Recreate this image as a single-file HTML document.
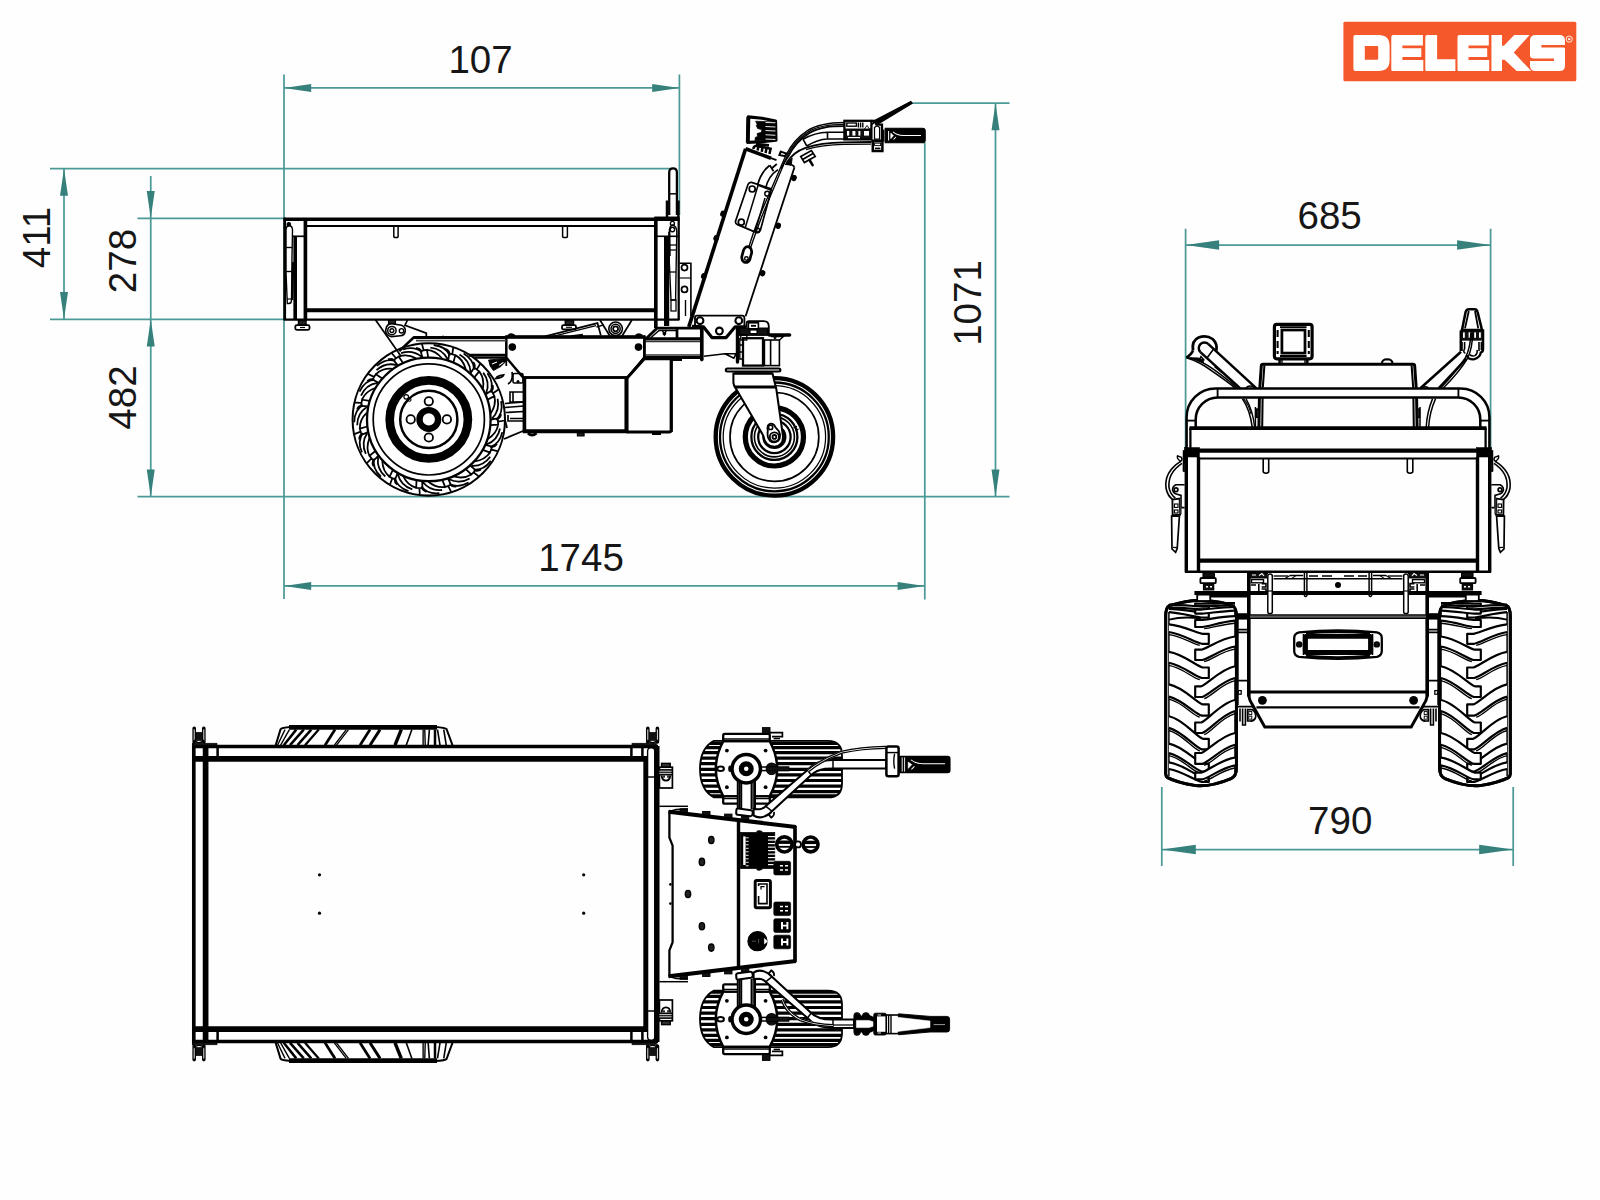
<!DOCTYPE html>
<html><head><meta charset="utf-8"><title>DELEKS dimensions</title>
<style>
html,body{margin:0;padding:0;background:#fefefe;}
body{width:1600px;height:1200px;overflow:hidden;font-family:"Liberation Sans",sans-serif;}
svg{display:block;}
svg text{font-family:"Liberation Sans",sans-serif;fill:#161616;}
</style></head><body>
<svg width="1600" height="1200" viewBox="0 0 1600 1200">
<defs><clipPath id="finclip"><path d="M714 740.8 H828 Q842 741 842 755 V783.4 Q842 797.4 828 797.4 H714 Q700 790 700 769 Q700 748 714 740.8 Z"/></clipPath></defs>
<rect x="0" y="0" width="1600" height="1200" fill="#fefefe"/>
<line x1="284.00" y1="74.50" x2="284.00" y2="599.00" stroke="#4c9a97" stroke-width="1.75" stroke-linecap="butt"/>
<line x1="679.40" y1="74.50" x2="679.40" y2="215.00" stroke="#4c9a97" stroke-width="1.75" stroke-linecap="butt"/>
<line x1="284.00" y1="87.90" x2="679.40" y2="87.90" stroke="#4c9a97" stroke-width="1.75" stroke-linecap="butt"/>
<polygon points="284.00,87.90 311.20,83.90 311.20,91.90" fill="#36817c"/>
<polygon points="679.40,87.90 652.20,83.90 652.20,91.90" fill="#36817c"/>
<text x="480.50" y="72.50" font-size="38.5" text-anchor="middle">107</text>
<line x1="50.00" y1="168.50" x2="670.00" y2="168.50" stroke="#4c9a97" stroke-width="1.75" stroke-linecap="butt"/>
<line x1="50.00" y1="319.30" x2="284.00" y2="319.30" stroke="#4c9a97" stroke-width="1.75" stroke-linecap="butt"/>
<line x1="64.00" y1="168.50" x2="64.00" y2="319.30" stroke="#4c9a97" stroke-width="1.75" stroke-linecap="butt"/>
<polygon points="64.00,168.50 60.00,195.70 68.00,195.70" fill="#36817c"/>
<polygon points="64.00,319.30 60.00,292.10 68.00,292.10" fill="#36817c"/>
<text x="50.00" y="237.50" font-size="38.5" text-anchor="middle" transform="rotate(-90 50.00 237.50)">411</text>
<line x1="137.50" y1="218.30" x2="284.00" y2="218.30" stroke="#4c9a97" stroke-width="1.75" stroke-linecap="butt"/>
<line x1="150.75" y1="176.00" x2="150.75" y2="496.70" stroke="#4c9a97" stroke-width="1.75" stroke-linecap="butt"/>
<polygon points="150.75,218.30 146.75,191.10 154.75,191.10" fill="#36817c"/>
<polygon points="150.75,319.30 146.75,346.50 154.75,346.50" fill="#36817c"/>
<polygon points="150.75,496.70 146.75,469.50 154.75,469.50" fill="#36817c"/>
<text x="136.00" y="261.00" font-size="38.5" text-anchor="middle" transform="rotate(-90 136.00 261.00)">278</text>
<text x="136.00" y="397.50" font-size="38.5" text-anchor="middle" transform="rotate(-90 136.00 397.50)">482</text>
<line x1="137.50" y1="496.70" x2="1009.50" y2="496.70" stroke="#4c9a97" stroke-width="1.75" stroke-linecap="butt"/>
<line x1="924.80" y1="142.50" x2="924.80" y2="599.50" stroke="#4c9a97" stroke-width="1.75" stroke-linecap="butt"/>
<line x1="284.00" y1="585.90" x2="924.80" y2="585.90" stroke="#4c9a97" stroke-width="1.75" stroke-linecap="butt"/>
<polygon points="284.00,585.90 311.20,581.90 311.20,589.90" fill="#36817c"/>
<polygon points="924.80,585.90 897.60,581.90 897.60,589.90" fill="#36817c"/>
<text x="581.00" y="571.00" font-size="38.5" text-anchor="middle">1745</text>
<line x1="911.00" y1="103.00" x2="1009.50" y2="103.00" stroke="#4c9a97" stroke-width="1.75" stroke-linecap="butt"/>
<line x1="995.50" y1="103.00" x2="995.50" y2="496.70" stroke="#4c9a97" stroke-width="1.75" stroke-linecap="butt"/>
<polygon points="995.50,103.00 991.50,130.20 999.50,130.20" fill="#36817c"/>
<polygon points="995.50,496.70 991.50,469.50 999.50,469.50" fill="#36817c"/>
<text x="980.50" y="303.00" font-size="38.5" text-anchor="middle" transform="rotate(-90 980.50 303.00)">1071</text>
<line x1="1185.60" y1="228.70" x2="1185.60" y2="448.00" stroke="#4c9a97" stroke-width="1.75" stroke-linecap="butt"/>
<line x1="1490.60" y1="228.70" x2="1490.60" y2="448.00" stroke="#4c9a97" stroke-width="1.75" stroke-linecap="butt"/>
<line x1="1185.60" y1="245.00" x2="1490.60" y2="245.00" stroke="#4c9a97" stroke-width="1.75" stroke-linecap="butt"/>
<polygon points="1185.60,245.00 1219.10,240.20 1219.10,249.80" fill="#36817c"/>
<polygon points="1490.60,245.00 1457.10,240.20 1457.10,249.80" fill="#36817c"/>
<text x="1329.60" y="228.70" font-size="38.5" text-anchor="middle">685</text>
<line x1="1161.80" y1="787.00" x2="1161.80" y2="866.00" stroke="#4c9a97" stroke-width="1.75" stroke-linecap="butt"/>
<line x1="1513.20" y1="787.00" x2="1513.20" y2="866.00" stroke="#4c9a97" stroke-width="1.75" stroke-linecap="butt"/>
<line x1="1161.80" y1="849.50" x2="1513.20" y2="849.50" stroke="#4c9a97" stroke-width="1.75" stroke-linecap="butt"/>
<polygon points="1161.80,849.50 1195.80,844.70 1195.80,854.30" fill="#36817c"/>
<polygon points="1513.20,849.50 1479.20,844.70 1479.20,854.30" fill="#36817c"/>
<text x="1340.20" y="834.00" font-size="38.5" text-anchor="middle">790</text>
<g role="img" aria-label="DELEKS">
<rect x="1343.4" y="21.8" width="232.9" height="59.4" rx="1.5" fill="#f5582b"/>
<path fill="#fff" fill-rule="evenodd" d="M1355.4 34.9 H1378.5 Q1389.6 34.9 1389.6 46 V60 Q1389.6 71.0 1378.5 71.0 H1355.4 Q1353.4 71.0 1353.4 69.0 V36.9 Q1353.4 34.9 1355.4 34.9 Z M1364.8 45.9 H1377 Q1378.2 45.9 1378.2 47.1 V58.5 Q1378.2 59.7 1377 59.7 H1364.8 Z"/>
<path fill="#fff" d="M1393.3 34.9 H1422.8999999999999 V45.5 H1402.4 V48.2 H1421.3 V57.1 H1402.4 V59.9 H1423.3 V71.0 H1392.3 Q1391.3 71.0 1391.3 70.0 V36.9 Q1391.3 34.9 1393.3 34.9 Z"/>
<path fill="#fff" d="M1427.3 34.9 H1437.1 V59.3 H1455.4 V71.0 H1426.3 Q1425.3 71.0 1425.3 70.0 V36.9 Q1425.3 34.9 1427.3 34.9 Z"/>
<path fill="#fff" d="M1459.5 34.9 H1488.8 V45.5 H1468.5 V48.2 H1487.2 V57.1 H1468.5 V59.9 H1489.2 V71.0 H1458.5 Q1457.5 71.0 1457.5 70.0 V36.9 Q1457.5 34.9 1459.5 34.9 Z"/>
<path fill="#fff" d="M1491.44 34.91 L1502.00 34.91 L1502.00 45.71 L1503.87 45.71 L1514.19 34.91 L1529.62 34.91 L1513.78 52.54 L1531.25 71.06 L1516.62 71.06 L1504.60 59.69 L1502.00 59.69 L1502.00 71.06 L1491.44 71.06 Z"/>
<path fill="#fff" d="M1535.5 34.9 H1559.5 Q1565.0 34.9 1565.0 40.4 V45 H1541.4 V47.5 H1564.0 Q1565.0 47.5 1565.0 49 V65.5 Q1565.0 71.0 1559.5 71.0 H1535.5 Q1530.0 71.0 1530.0 65.5 V60.9 H1554 V58.5 H1533.0 Q1530.0 58 1530.0 55 V40.4 Q1530.0 34.9 1535.5 34.9 Z"/>
<circle cx="1569.2" cy="39.1" r="3.1" fill="none" stroke="#fff" stroke-width="0.9"/>
<circle cx="1569.2" cy="39.1" r="1.2" fill="#fff"/>
</g>
<line x1="283.60" y1="219.20" x2="679.40" y2="219.20" stroke="#000" stroke-width="3.65" stroke-linecap="butt"/>
<line x1="306.00" y1="226.00" x2="655.60" y2="226.00" stroke="#000" stroke-width="2.05" stroke-linecap="butt"/>
<line x1="306.00" y1="310.20" x2="655.60" y2="310.20" stroke="#000" stroke-width="3.88" stroke-linecap="butt"/>
<line x1="283.60" y1="319.60" x2="679.40" y2="319.60" stroke="#000" stroke-width="2.28" stroke-linecap="butt"/>
<line x1="284.70" y1="217.70" x2="284.70" y2="320.00" stroke="#000" stroke-width="2.74" stroke-linecap="butt"/>
<line x1="305.40" y1="218.00" x2="305.40" y2="320.00" stroke="#000" stroke-width="3.65" stroke-linecap="butt"/>
<line x1="293.00" y1="236.30" x2="304.00" y2="236.30" stroke="#000" stroke-width="1.71" stroke-linecap="butt"/>
<line x1="295.20" y1="236.00" x2="295.20" y2="319.60" stroke="#000" stroke-width="3.65" stroke-linecap="butt"/>
<path d="M286 230 Q286 226 289 225.5 Q292.5 226 292.5 230 L292 257 L291.5 300 Q291.5 303.5 289 303.5 L287.3 303.5 L286 272 Z" stroke="#000" stroke-width="1.37" fill="none" />
<line x1="286.20" y1="247.50" x2="292.00" y2="247.50" stroke="#000" stroke-width="1.37" stroke-linecap="butt"/>
<line x1="286.20" y1="271.50" x2="292.00" y2="271.50" stroke="#000" stroke-width="1.37" stroke-linecap="butt"/>
<line x1="287.00" y1="299.00" x2="291.50" y2="299.00" stroke="#000" stroke-width="1.14" stroke-linecap="butt"/>
<circle cx="288.80" cy="224.30" r="1.80" stroke="#000" stroke-width="1.14" fill="#000"/>
<line x1="293.20" y1="262.00" x2="292.20" y2="300.00" stroke="#000" stroke-width="2.28" stroke-linecap="butt"/>
<path d="M393.8 226 V236.5 Q393.8 237.6 395.95000000000005 237.6 Q398.1 237.6 398.1 236.5 V226" stroke="#000" stroke-width="1.48" fill="none" />
<path d="M562.6 226 V236.5 Q562.6 237.6 565.0 237.6 Q567.4 237.6 567.4 236.5 V226" stroke="#000" stroke-width="1.48" fill="none" />
<line x1="655.80" y1="217.70" x2="655.80" y2="328.00" stroke="#000" stroke-width="3.65" stroke-linecap="butt"/>
<line x1="678.70" y1="217.70" x2="678.70" y2="320.00" stroke="#000" stroke-width="2.28" stroke-linecap="butt"/>
<line x1="654.30" y1="217.90" x2="679.70" y2="217.90" stroke="#000" stroke-width="2.74" stroke-linecap="butt"/>
<line x1="657.00" y1="236.30" x2="678.00" y2="236.30" stroke="#000" stroke-width="1.6" stroke-linecap="butt"/>
<line x1="666.60" y1="236.00" x2="666.60" y2="326.00" stroke="#000" stroke-width="5.24" stroke-linecap="butt"/>
<path d="M669.3 232 Q669.3 226 672.5 225 Q676.8 226 676.8 232 L676.3 258 L675.6 300 L671 300 L669.3 262 Z" stroke="#000" stroke-width="1.37" fill="none" />
<line x1="669.50" y1="245.00" x2="676.50" y2="245.00" stroke="#000" stroke-width="1.25" stroke-linecap="butt"/>
<line x1="669.50" y1="250.00" x2="676.30" y2="250.00" stroke="#000" stroke-width="1.25" stroke-linecap="butt"/>
<line x1="670.00" y1="272.00" x2="676.00" y2="272.00" stroke="#000" stroke-width="1.25" stroke-linecap="butt"/>
<circle cx="672.40" cy="223.40" r="2.00" stroke="#000" stroke-width="1.37" fill="none"/>
<circle cx="672.40" cy="229.50" r="2.20" stroke="#000" stroke-width="1.37" fill="none"/>
<line x1="669.30" y1="232.00" x2="669.60" y2="256.00" stroke="#000" stroke-width="2.28" stroke-linecap="butt"/>
<rect x="671.00" y="300.00" width="5.00" height="11.00" rx="0" stroke="#000" stroke-width="1.25" fill="none"/>
<path d="M669.2 215 V172.5 Q669.2 168.4 673 168.4 Q676.9 168.4 676.9 172.5 V215" stroke="#000" stroke-width="2.28" fill="none" />
<line x1="669.20" y1="193.80" x2="676.90" y2="193.80" stroke="#000" stroke-width="1.48" stroke-linecap="butt"/>
<path d="M667 217 V200.5 M678.4 217 V200.5" stroke="#000" stroke-width="2.51" fill="none" />
<path d="M679.4 263.2 H690.9 V316 " stroke="#000" stroke-width="1.6" fill="none" />
<line x1="685.50" y1="300.00" x2="685.50" y2="316.00" stroke="#000" stroke-width="1.37" stroke-linecap="butt"/>
<circle cx="684.50" cy="267.60" r="3.00" stroke="#000" stroke-width="1.71" fill="none"/>
<circle cx="684.50" cy="289.40" r="3.00" stroke="#000" stroke-width="1.71" fill="none"/>
<line x1="679.40" y1="278.00" x2="690.90" y2="278.00" stroke="#000" stroke-width="1.14" stroke-linecap="butt"/>
<rect x="298.50" y="320.40" width="7.50" height="4.60" rx="0" stroke="#000" stroke-width="1.48" fill="#222"/>
<rect x="295.30" y="325.20" width="14.20" height="4.60" rx="1.5" stroke="#000" stroke-width="1.82" fill="none"/>
<line x1="300.00" y1="327.50" x2="305.00" y2="327.50" stroke="#000" stroke-width="1.14" stroke-linecap="butt"/>
<rect x="565.30" y="320.40" width="8.20" height="4.60" rx="0" stroke="#000" stroke-width="1.48" fill="#222"/>
<rect x="562.00" y="325.20" width="14.00" height="4.20" rx="1.5" stroke="#000" stroke-width="1.82" fill="none"/>
<line x1="566.00" y1="327.30" x2="572.00" y2="327.30" stroke="#000" stroke-width="1.14" stroke-linecap="butt"/>
<path d="M506.30 337.00 L644.40 337.00 L644.40 357.60 L627.50 377.50 L523.10 377.50 L506.30 357.60 Z" stroke="#000" stroke-width="2.51" fill="none" stroke-linejoin="miter"/>
<line x1="505.20" y1="337.00" x2="645.50" y2="337.00" stroke="#000" stroke-width="3.65" stroke-linecap="butt"/>
<circle cx="512.30" cy="347.10" r="3.80" fill="#000"/>
<circle cx="638.50" cy="347.10" r="3.80" fill="#000"/>
<path d="M508.5 336 Q511 333 514.5 336 M636 336 Q638.7 333 642 336" stroke="#000" stroke-width="2.74" fill="none" />
<line x1="524.40" y1="377.50" x2="524.40" y2="432.60" stroke="#000" stroke-width="3.65" stroke-linecap="butt"/>
<line x1="626.50" y1="377.50" x2="626.50" y2="432.60" stroke="#000" stroke-width="4.1" stroke-linecap="butt"/>
<line x1="523.00" y1="377.50" x2="628.00" y2="377.50" stroke="#000" stroke-width="2.28" stroke-linecap="butt"/>
<line x1="522.80" y1="431.30" x2="628.00" y2="431.30" stroke="#000" stroke-width="4.1" stroke-linecap="butt"/>
<path d="M627.5 377.5 L644.4 358.8 H671.2 V430 Q671.2 432 669.2 432 H626.5" stroke="#000" stroke-width="2.85" fill="none" />
<line x1="671.50" y1="359.60" x2="682.00" y2="359.60" stroke="#000" stroke-width="2.51" stroke-linecap="butt"/>
<path d="M528 433.2 Q532 437 536.5 433.2" stroke="#000" stroke-width="2.85" fill="none" />
<rect x="577.50" y="432.80" width="6.50" height="3.00" rx="0" stroke="#000" stroke-width="1.37" fill="#222"/>
<line x1="652.00" y1="434.00" x2="661.00" y2="434.00" stroke="#000" stroke-width="2.05" stroke-linecap="butt"/>
<path d="M506.3 357.6 V366 M512 372 Q513.5 381 508 384" stroke="#000" stroke-width="1.71" fill="none" />
<rect x="513.00" y="373.50" width="10.00" height="9.50" rx="1.5" stroke="#000" stroke-width="1.6" fill="none"/>
<circle cx="518.00" cy="381.50" r="1.50" fill="#000"/>
<path d="M524 392 H510 V402 H524 M513 392 V402" stroke="#000" stroke-width="1.6" fill="none" />
<path d="M505 403.5 L524 401.8 M505 407.5 L524 406 M506 412.5 L524 411.5 M508 415 V421 H524 M510 418.5 H524" stroke="#000" stroke-width="1.71" fill="none" />
<path d="M505 420 L507 428 M523 431 L504 439" stroke="#000" stroke-width="1.82" fill="none" />
<path d="M488.60 360.00 L506.00 358.40 L506.40 361.00 L500.60 366.60 L493.40 370.60 L490.20 366.00 Z" stroke="#000" stroke-width="0.91" fill="#000" stroke-linejoin="miter"/>
<path d="M492 364 L497 362 M499 365.4 L503.4 362.4" stroke="#fff" stroke-width="1.14" fill="none" />
<path d="M494.6 378.6 Q503 378 503.8 374.8 Q500 375.4 496.4 377" stroke="#000" stroke-width="1.6" fill="none" />
<circle cx="428.80" cy="419.40" r="76.20" stroke="#000" stroke-width="2.05" fill="#fff"/>
<circle cx="428.80" cy="419.40" r="61.80" stroke="#000" stroke-width="2.28" fill="none"/>
<circle cx="428.80" cy="419.40" r="55.60" stroke="#000" stroke-width="1.71" fill="none"/>
<circle cx="428.80" cy="419.40" r="39.10" stroke="#000" stroke-width="8.66" fill="none"/>
<circle cx="428.80" cy="419.40" r="28.60" stroke="#000" stroke-width="2.51" fill="none"/>
<circle cx="428.80" cy="419.40" r="9.30" stroke="#000" stroke-width="6.38" fill="none"/>
<circle cx="446.90" cy="419.40" r="4.20" stroke="#000" stroke-width="1.82" fill="none"/>
<circle cx="428.80" cy="437.50" r="4.20" stroke="#000" stroke-width="1.82" fill="none"/>
<circle cx="410.70" cy="419.40" r="4.20" stroke="#000" stroke-width="1.82" fill="none"/>
<circle cx="428.80" cy="401.30" r="4.20" stroke="#000" stroke-width="1.82" fill="none"/>
<circle cx="406.20" cy="396.80" r="2.30" stroke="#000" stroke-width="1.25" fill="none"/>
<circle cx="409.50" cy="399.80" r="1.50" stroke="#000" stroke-width="1.14" fill="none"/>
<path d="M422.5 357.7 L420.6 350.9 L426.9 349.8 L428.2 357.4 M426.9 349.8 Q435.8 350.5 442.1 358.5 M430.4 347.6 Q442.3 348.7 447.6 359.1 M433.7 345.0 Q446.1 346.4 449.9 355.6 M416.0 348.0 Q419.8 348.5 420.8 350.6 M423.7 350.3 L421.9 343.9 M448.2 360.5 L449.2 353.5 L455.3 355.1 L453.4 362.5 M455.3 355.1 Q463.2 359.3 465.7 369.2 M459.5 354.5 Q469.9 360.3 470.5 371.9 M463.6 353.4 Q474.2 359.7 474.0 369.7 M446.1 349.0 Q449.5 351.0 449.5 353.3 M452.3 354.2 L453.2 347.6 M470.4 373.5 L474.2 367.5 L479.2 371.4 L474.4 377.4 M479.2 371.4 Q484.7 378.5 482.9 388.5 M483.2 372.6 Q490.4 382.1 486.2 393.0 M487.4 373.3 Q494.6 383.4 490.3 392.4 M473.2 362.1 Q475.5 365.3 474.6 367.4 M476.8 369.4 L480.3 363.8 M485.5 394.4 L491.4 390.5 L494.4 396.1 L487.6 399.6 M494.4 396.1 Q496.5 404.8 490.8 413.2 M497.6 398.8 Q500.2 410.4 492.0 418.6 M501.1 401.1 Q503.5 413.3 496.0 419.8 M492.7 385.1 Q493.5 389.0 491.8 390.6 M493.0 393.2 L498.5 389.5 M490.8 419.6 L497.8 418.4 L498.2 424.7 L490.5 425.2 M498.2 424.7 Q496.6 433.6 487.9 439.0 M500.0 428.5 Q497.7 440.2 486.8 444.4 M502.3 432.1 Q499.6 444.2 490.0 447.1 M501.1 414.1 Q500.3 417.9 498.1 418.7 M498.1 421.6 L504.6 420.5 M485.4 444.8 L492.2 446.6 L490.0 452.5 L482.8 449.8 M490.0 452.5 Q485.0 459.9 474.9 461.3 M490.2 456.7 Q483.3 466.4 471.7 465.8 M490.8 460.9 Q483.4 470.8 473.5 469.6 M497.0 444.0 Q494.7 447.1 492.4 446.9 M491.2 449.6 L497.6 451.2 M470.1 465.6 L475.7 470.0 L471.3 474.5 L465.8 469.2 M471.3 474.5 Q463.7 479.3 453.8 476.4 M469.7 478.4 Q459.5 484.5 449.1 479.3 M468.6 482.5 Q457.7 488.6 449.2 483.4 M481.1 469.6 Q477.7 471.5 475.7 470.4 M473.5 472.3 L478.7 476.4 M447.8 478.4 L451.0 484.7 L445.2 487.0 L442.3 479.9 M445.2 487.0 Q436.3 488.3 428.5 481.7 M442.1 490.0 Q430.3 491.4 423.0 482.3 M439.4 493.2 Q427.1 494.4 421.4 486.2 M456.2 486.5 Q452.3 486.9 450.9 485.1 M448.1 485.9 L451.2 491.8 M422.1 481.0 L422.5 488.1 L416.2 487.9 L416.5 480.2 M416.2 487.9 Q407.6 485.4 403.2 476.2 M412.3 489.3 Q400.9 485.8 397.9 474.5 M408.5 491.2 Q396.7 487.2 394.9 477.4 M426.5 491.9 Q422.8 490.6 422.3 488.4 M419.4 488.1 L419.8 494.7 M397.6 473.0 L395.1 479.6 L389.5 476.8 L392.9 469.9 M389.5 476.8 Q382.6 471.1 382.3 460.8 M385.3 476.5 Q376.3 468.7 378.1 457.2 M381.0 476.7 Q371.9 468.3 374.2 458.6 M397.2 484.7 Q394.4 482.1 394.8 479.8 M392.3 478.3 L390.0 484.5 M378.5 455.7 L373.5 460.7 L369.5 455.9 L375.4 451.0 M369.5 455.9 Q365.6 447.8 369.4 438.3 M365.8 453.9 Q360.8 443.1 367.1 433.3 M361.9 452.3 Q357.0 441.0 363.0 433.0 M373.4 466.2 Q371.8 462.6 373.2 460.7 M371.5 458.4 L366.9 463.1 M368.1 432.1 L361.5 434.7 L359.8 428.6 L367.2 426.5 M359.8 428.6 Q359.5 419.6 366.9 412.6 M357.2 425.3 Q357.1 413.4 366.8 407.0 M354.3 422.3 Q354.4 409.9 363.1 405.1 M359.2 439.6 Q359.2 435.7 361.2 434.5 M360.6 431.7 L354.4 434.1 M368.2 406.3 L361.1 406.0 L362.0 399.7 L369.6 400.9 M362.0 399.7 Q365.4 391.4 375.0 388.0 M361.0 395.7 Q365.7 384.7 377.2 382.9 M359.5 391.7 Q364.7 380.4 374.6 379.6 M357.0 409.6 Q358.6 406.0 360.9 405.7 M361.5 402.9 L354.9 402.6 M378.8 382.8 L372.4 379.6 L375.8 374.3 L382.3 378.4 M375.8 374.3 Q382.2 368.1 392.4 368.8 M376.5 370.2 Q385.3 362.0 396.5 365.1 M376.8 365.9 Q386.1 357.7 395.5 361.0 M367.2 381.2 Q370.1 378.6 372.3 379.3 M374.0 376.9 L368.1 374.0 M398.0 365.6 L393.5 360.1 L398.7 356.6 L403.0 363.0 M398.7 356.6 Q407.2 353.6 416.2 358.4 M401.1 353.2 Q412.4 349.3 421.4 356.6 M403.0 349.4 Q414.9 345.7 422.1 352.5 M388.0 359.4 Q391.8 358.2 393.5 359.8 M396.1 358.3 L391.8 353.2" stroke="#000" stroke-width="1.77" fill="none" />
<line x1="375.60" y1="320.00" x2="400.50" y2="355.50" stroke="#000" stroke-width="1.71" stroke-linecap="butt"/>
<path d="M407.50 320.00 L405.00 325.20 L426.30 333.20 L426.30 337.00" stroke="#000" stroke-width="1.71" fill="none" stroke-linejoin="miter"/>
<path d="M386.5 327 Q388 323.5 392 323.8 L401.5 325.3 Q405.6 327 405.3 331 Q404.5 335.5 400.5 335.8 L391.5 336.6 Q386 335.5 385.6 330.5 Z" stroke="#000" stroke-width="1.6" fill="none" />
<circle cx="391.90" cy="330.60" r="4.20" stroke="#000" stroke-width="1.48" fill="none"/>
<circle cx="391.90" cy="330.60" r="1.90" stroke="#000" stroke-width="1.37" fill="none"/>
<circle cx="401.50" cy="330.80" r="2.20" stroke="#000" stroke-width="1.37" fill="none"/>
<rect x="388.50" y="320.40" width="7.00" height="3.20" rx="0" stroke="#000" stroke-width="1.14" fill="#222"/>
<line x1="413.40" y1="337.50" x2="506.30" y2="337.50" stroke="#000" stroke-width="2.96" stroke-linecap="butt"/>
<line x1="416.00" y1="340.60" x2="506.30" y2="340.60" stroke="#444" stroke-width="1.82" stroke-linecap="butt"/>
<line x1="414.20" y1="337.00" x2="399.20" y2="351.20" stroke="#000" stroke-width="2.51" stroke-linecap="butt"/>
<line x1="442.00" y1="336.40" x2="444.00" y2="336.40" stroke="#000" stroke-width="1.14" stroke-linecap="butt"/>
<line x1="468.80" y1="355.20" x2="506.30" y2="355.20" stroke="#000" stroke-width="2.96" stroke-linecap="butt"/>
<line x1="474.00" y1="357.80" x2="506.30" y2="357.80" stroke="#000" stroke-width="1.82" stroke-linecap="butt"/>
<line x1="600.00" y1="320.00" x2="610.00" y2="336.30" stroke="#000" stroke-width="1.71" stroke-linecap="butt"/>
<line x1="631.90" y1="320.00" x2="621.90" y2="336.30" stroke="#000" stroke-width="1.71" stroke-linecap="butt"/>
<circle cx="615.60" cy="328.80" r="6.80" stroke="#000" stroke-width="1.6" fill="none"/>
<circle cx="615.60" cy="328.80" r="4.60" stroke="#000" stroke-width="1.48" fill="none"/>
<circle cx="615.60" cy="328.80" r="2.50" stroke="#000" stroke-width="1.71" fill="none"/>
<path d="M545.00 336.40 L597.50 323.10 L600.80 335.30" stroke="#000" stroke-width="1.71" fill="none" stroke-linejoin="miter"/>
<line x1="552.00" y1="336.60" x2="596.00" y2="325.60" stroke="#000" stroke-width="1.25" stroke-linecap="butt"/>
<line x1="596.50" y1="327.00" x2="603.80" y2="324.80" stroke="#000" stroke-width="1.37" stroke-linecap="butt"/>
<line x1="571.00" y1="336.30" x2="583.00" y2="334.80" stroke="#000" stroke-width="2.28" stroke-linecap="butt"/>
<line x1="644.40" y1="338.80" x2="701.00" y2="338.80" stroke="#000" stroke-width="2.96" stroke-linecap="butt"/>
<line x1="644.40" y1="341.40" x2="701.00" y2="341.40" stroke="#333" stroke-width="1.6" stroke-linecap="butt"/>
<line x1="644.40" y1="355.00" x2="701.00" y2="355.00" stroke="#333" stroke-width="1.6" stroke-linecap="butt"/>
<line x1="644.40" y1="357.60" x2="701.00" y2="357.60" stroke="#000" stroke-width="2.96" stroke-linecap="butt"/>
<line x1="644.30" y1="337.00" x2="644.30" y2="358.00" stroke="#000" stroke-width="2.51" stroke-linecap="butt"/>
<line x1="644.00" y1="358.00" x2="630.00" y2="375.00" stroke="#000" stroke-width="2.28" stroke-linecap="butt"/>
<path d="M646.30 338.40 L657.00 328.20 L701.00 328.20" stroke="#000" stroke-width="2.74" fill="none" stroke-linejoin="miter"/>
<path d="M650.50 338.00 L659.00 330.40 L676.00 330.40" stroke="#000" stroke-width="1.48" fill="none" stroke-linejoin="miter"/>
<line x1="677.00" y1="328.50" x2="677.00" y2="338.50" stroke="#000" stroke-width="2.74" stroke-linecap="butt"/>
<path d="M662.3 330 L664.4 334.6 L666.5 330" stroke="#000" stroke-width="1.48" fill="none" />
<circle cx="664.40" cy="333.60" r="1.30" stroke="#000" stroke-width="1.14" fill="none"/>
<line x1="671.30" y1="358.80" x2="671.30" y2="432.00" stroke="#000" stroke-width="2.96" stroke-linecap="butt"/>
<line x1="670.00" y1="359.40" x2="682.00" y2="359.40" stroke="#000" stroke-width="2.96" stroke-linecap="butt"/>
<line x1="701.80" y1="327.50" x2="701.80" y2="359.60" stroke="#000" stroke-width="3.65" stroke-linecap="round"/>
<line x1="737.50" y1="327.50" x2="737.50" y2="362.00" stroke="#000" stroke-width="3.42" stroke-linecap="round"/>
<path d="M703.8 356.3 L725 353.8 H736.3 M725 353.8 L733.8 358.2 L736 354" stroke="#000" stroke-width="1.6" fill="none" />
<line x1="739.60" y1="345.00" x2="742.50" y2="345.00" stroke="#000" stroke-width="1.48" stroke-linecap="butt"/>
<line x1="739.60" y1="352.00" x2="742.50" y2="352.00" stroke="#000" stroke-width="1.48" stroke-linecap="butt"/>
<path d="M739.8 338 V359 H742.6" stroke="#000" stroke-width="1.37" fill="none" />
<path d="M695 326 V317.6 Q695 315.6 697 315.6 H742 Q744.4 315.6 744.4 318 V326" stroke="#000" stroke-width="1.82" fill="none" />
<path d="M692 326.4 L703.6 326.9 L711.9 337.6 H726.2 L735 326.9 L746.5 326.9" stroke="#000" stroke-width="3.19" fill="none" stroke-linejoin="round"/>
<circle cx="700.00" cy="320.70" r="3.40" stroke="#000" stroke-width="2.05" fill="none"/>
<circle cx="738.80" cy="320.70" r="3.40" stroke="#000" stroke-width="2.05" fill="none"/>
<circle cx="719.40" cy="331.00" r="3.40" stroke="#000" stroke-width="2.05" fill="none"/>
<rect x="743.00" y="338.20" width="20.00" height="27.40" rx="0" stroke="#000" stroke-width="2.28" fill="none"/>
<rect x="764.40" y="340.00" width="15.00" height="25.60" rx="0" stroke="#000" stroke-width="1.6" fill="none"/>
<line x1="770.60" y1="340.00" x2="770.60" y2="365.60" stroke="#000" stroke-width="1.6" stroke-linecap="butt"/>
<line x1="769.40" y1="335.00" x2="789.60" y2="335.00" stroke="#000" stroke-width="3.42" stroke-linecap="round"/>
<path d="M771.00 336.50 L783.50 336.50 L779.50 340.00" stroke="#000" stroke-width="1.37" fill="none" stroke-linejoin="miter"/>
<circle cx="775.00" cy="337.80" r="0.90" stroke="#000" stroke-width="1.14" fill="none"/>
<rect x="739.60" y="328.20" width="28.00" height="7.00" rx="0" stroke="#000" stroke-width="1.37" fill="#111"/>
<rect x="740.80" y="335.00" width="6.00" height="5.00" rx="0" stroke="#000" stroke-width="1.37" fill="none"/>
<rect x="748.40" y="322.80" width="10.00" height="6.00" rx="0" stroke="#000" stroke-width="1.6" fill="#fff"/>
<rect x="750.00" y="330.00" width="7.00" height="3.60" rx="0" stroke="#000" stroke-width="1.14" fill="#fff"/>
<line x1="751.00" y1="325.80" x2="756.00" y2="325.80" stroke="#000" stroke-width="1.82" stroke-linecap="butt"/>
<path d="M746.6 327.5 V323.5 Q746.6 321.2 749 321.2 H763.6 Q768.8 321.2 768.8 326.6 V335" stroke="#000" stroke-width="1.82" fill="none" />
<rect x="725.80" y="368.40" width="54.60" height="3.00" rx="1.5" stroke="#000" stroke-width="2.05" fill="none"/>
<line x1="734.40" y1="373.00" x2="772.50" y2="373.00" stroke="#000" stroke-width="1.6" stroke-linecap="butt"/>
<circle cx="774.40" cy="436.90" r="58.70" stroke="#000" stroke-width="4.33" fill="#fff"/>
<circle cx="774.40" cy="436.90" r="54.40" stroke="#000" stroke-width="2.28" fill="none"/>
<circle cx="774.40" cy="436.90" r="51.20" stroke="#000" stroke-width="1.25" fill="none"/>
<circle cx="774.40" cy="436.90" r="44.40" stroke="#000" stroke-width="1.71" fill="none"/>
<circle cx="774.40" cy="436.90" r="29.10" stroke="#000" stroke-width="5.24" fill="none"/>
<circle cx="774.40" cy="436.90" r="23.00" stroke="#000" stroke-width="2.28" fill="none"/>
<circle cx="774.40" cy="436.90" r="20.00" stroke="#000" stroke-width="1.6" fill="none"/>
<circle cx="774.40" cy="436.90" r="16.20" stroke="#000" stroke-width="2.28" fill="none"/>
<circle cx="774.40" cy="436.90" r="10.60" stroke="#000" stroke-width="2.96" fill="none"/>
<path d="M793.5 428 L797 426.3 M795.5 430.5 L798.5 429" stroke="#000" stroke-width="1.37" fill="none" />
<path d="M733.4 373.6 V383 Q734 386.5 736.5 389.5 L763.2 435.5 Q764.8 446.5 774.4 446.8 Q783.5 446 783 436 L776.4 389.5 L772.5 373.6 Z" stroke="#000" stroke-width="2.05" fill="#fff" />
<line x1="735.00" y1="387.00" x2="776.20" y2="387.00" stroke="#000" stroke-width="2.96" stroke-linecap="butt"/>
<path d="M767.8 430.5 Q766.5 424.6 770.6 423.6 Q774 423.4 775.3 427 L778.8 431.2 Q781.5 436.5 778.5 440.5 Q774.4 444 770 441 Q766.8 437.6 767.8 430.5 Z" stroke="#000" stroke-width="1.82" fill="none" />
<circle cx="770.60" cy="427.40" r="2.10" stroke="#000" stroke-width="1.6" fill="none"/>
<circle cx="774.40" cy="436.90" r="4.60" stroke="#000" stroke-width="1.82" fill="none"/>
<circle cx="774.40" cy="436.90" r="1.90" stroke="#000" stroke-width="1.82" fill="none"/>
<line x1="745.60" y1="148.80" x2="688.80" y2="326.90" stroke="#000" stroke-width="3.65" stroke-linecap="butt"/>
<line x1="794.40" y1="167.50" x2="745.60" y2="316.20" stroke="#000" stroke-width="1.82" stroke-linecap="butt"/>
<path d="M745.6 148.8 L776.5 160.2 M786 163.8 Q793.5 164 794.4 167.5" stroke="#000" stroke-width="1.82" fill="none" />
<ellipse cx="723.00" cy="213.80" rx="2.60" ry="2.20" stroke="#000" stroke-width="1.14" fill="#000" transform="rotate(-72 723.00 213.80)"/>
<ellipse cx="716.20" cy="238.20" rx="2.60" ry="2.20" stroke="#000" stroke-width="1.14" fill="#000" transform="rotate(-72 716.20 238.20)"/>
<ellipse cx="703.80" cy="276.20" rx="2.60" ry="2.20" stroke="#000" stroke-width="1.14" fill="#000" transform="rotate(-72 703.80 276.20)"/>
<ellipse cx="794.00" cy="178.00" rx="2.60" ry="2.20" stroke="#000" stroke-width="1.14" fill="#000" transform="rotate(-72 794.00 178.00)"/>
<ellipse cx="778.20" cy="225.80" rx="2.60" ry="2.20" stroke="#000" stroke-width="1.14" fill="#000" transform="rotate(-72 778.20 225.80)"/>
<ellipse cx="762.60" cy="273.20" rx="2.60" ry="2.20" stroke="#000" stroke-width="1.14" fill="#000" transform="rotate(-72 762.60 273.20)"/>
<path d="M751.5 182.4 Q749 182 748 184.5 L735.6 221 Q735 223.6 737.5 224.6 L756.5 232.6 Q759.2 233.3 760.3 230.5 L770.5 193 L771.3 188.8 Z" stroke="#000" stroke-width="1.71" fill="none" />
<line x1="758.00" y1="185.50" x2="745.30" y2="227.50" stroke="#000" stroke-width="1.48" stroke-linecap="butt"/>
<line x1="765.00" y1="198.00" x2="755.50" y2="230.50" stroke="#000" stroke-width="1.48" stroke-linecap="butt"/>
<line x1="757.40" y1="185.00" x2="770.60" y2="190.00" stroke="#000" stroke-width="1.48" stroke-linecap="butt"/>
<circle cx="752.20" cy="189.00" r="3.00" stroke="#000" stroke-width="1.71" fill="none"/>
<circle cx="767.20" cy="193.70" r="2.40" stroke="#000" stroke-width="1.48" fill="none"/>
<circle cx="741.30" cy="222.20" r="3.00" stroke="#000" stroke-width="1.71" fill="none"/>
<circle cx="757.50" cy="230.00" r="2.00" stroke="#000" stroke-width="1.37" fill="none"/>
<path d="M771.6 168.5 L776.8 164 M769.5 165.5 Q761 172 757.5 185 M778 169.6 Q768.2 176 765.5 188.5 M769.8 165.3 L773.5 171.3" stroke="#000" stroke-width="1.71" fill="none" />
<path d="M786 155 Q773 185 760 215 Q752 236 748.6 248" stroke="#000" stroke-width="1.37" fill="none" />
<path d="M787.2 156 Q774.6 186 762 216 Q754.5 236 750.2 249" stroke="#000" stroke-width="1.37" fill="none" />
<path d="M743.6 250 Q745.6 245.4 749.5 247.2 Q752.8 249.6 751.2 254.5 L749.8 259.5 Q747.6 263.6 744 262 Q741 260 742 255.8 Z" stroke="#000" stroke-width="2.74" fill="none" />
<circle cx="746.40" cy="258.50" r="1.80" stroke="#000" stroke-width="1.37" fill="none"/>
<path d="M748.20 116.90 L762.00 118.20 L775.60 121.00 L776.00 140.20 L762.00 141.80 L747.60 142.40 Z" stroke="#000" stroke-width="3.08" fill="#fff" stroke-linejoin="round"/>
<line x1="748.40" y1="117.00" x2="747.80" y2="142.20" stroke="#000" stroke-width="3.88" stroke-linecap="butt"/>
<path d="M755.60 121.20 L776.00 122.00 L776.50 140.20 L755.00 140.80 L755.20 137.60 L757.60 136.20 L757.00 133.60 L761.40 132.20 L761.60 129.60 L757.60 128.60 L756.20 125.20 L757.20 124.40 Z" stroke="#000" stroke-width="0.68" fill="#000" stroke-linejoin="miter"/>
<line x1="765.50" y1="122.40" x2="775.40" y2="122.80" stroke="#e8e8e8" stroke-width="1.03" stroke-linecap="butt"/>
<line x1="765.50" y1="126.60" x2="775.40" y2="127.00" stroke="#e8e8e8" stroke-width="1.03" stroke-linecap="butt"/>
<line x1="765.50" y1="130.60" x2="775.40" y2="131.00" stroke="#e8e8e8" stroke-width="1.03" stroke-linecap="butt"/>
<line x1="765.50" y1="134.80" x2="775.40" y2="135.20" stroke="#e8e8e8" stroke-width="1.03" stroke-linecap="butt"/>
<line x1="765.50" y1="139.00" x2="775.40" y2="139.40" stroke="#e8e8e8" stroke-width="1.03" stroke-linecap="butt"/>
<path d="M753.4 149 Q753.6 146 756.4 145.8 L770.6 148.8 L769.4 154" stroke="#000" stroke-width="2.51" fill="none" />
<path d="M758.4 146.6 L757.6 150.6 M762.4 147.4 L761.8 151.8 M766.4 148.4 L765.6 153" stroke="#000" stroke-width="2.51" fill="none" />
<line x1="756.00" y1="144.20" x2="769.00" y2="145.40" stroke="#000" stroke-width="2.96" stroke-linecap="butt"/>
<line x1="745.60" y1="148.80" x2="771.00" y2="158.20" stroke="#000" stroke-width="3.65" stroke-linecap="butt"/>
<path d="M785.00 164.40 L792.20 158.00 L791.20 165.20 Z" stroke="#000" stroke-width="0.91" fill="#000" stroke-linejoin="miter"/>
<path d="M780.80 151.60 L786.40 153.60 L785.00 156.20 L779.40 155.00 Z" stroke="#000" stroke-width="2.05" fill="none" stroke-linejoin="miter"/>
<path d="M781.4 168.5 Q784 162 788 156.8 C792.5 148 799.5 139.2 809.4 133 S831 126.2 844.4 126.2" stroke="#000" stroke-width="1.82" fill="none" />
<path d="M786.4 163 Q793 152 805.6 147.8 Q820 142.8 844.4 142.4 L871.5 142" stroke="#000" stroke-width="1.82" fill="none" />
<path d="M803 139.2 Q815 132.4 827.5 132.2 H844.4 M806.8 146 Q817.5 139.4 827.5 139 H844.4 M827.5 132.2 V139 M803 139.2 L806.8 146" stroke="#000" stroke-width="1.6" fill="none" />
<path d="M786 155 C790.5 146 797.5 137 807.5 130.6 S830 122.6 844.4 122.5" stroke="#000" stroke-width="1.37" fill="none" />
<path d="M787 155.8 C791.5 147 798.5 138 808.4 131.8 S830.5 124.4 844.4 124.4" stroke="#000" stroke-width="1.37" fill="none" />
<path d="M806 149.6 Q822 144.8 844 144.4 L871 144.2" stroke="#000" stroke-width="1.25" fill="none" />
<path d="M800.8 156.6 L811.4 150.6 L815.2 156.4 L804.4 162.6 Z M802.6 159.4 L813 153.4" stroke="#000" stroke-width="1.71" fill="none" />
<path d="M809.5 160 L812.6 165.2" stroke="#000" stroke-width="2.51" fill="none" stroke-linecap="round"/>
<rect x="844.40" y="120.80" width="27.00" height="18.60" rx="0" stroke="#000" stroke-width="2.28" fill="none"/>
<rect x="846.80" y="123.00" width="9.60" height="3.20" rx="0" stroke="#000" stroke-width="1.37" fill="none"/>
<path d="M858.4 122.5 V127.5 M860.6 122.5 V127.5 M862.8 122.5 V127.5" stroke="#000" stroke-width="1.37" fill="none" />
<rect x="845.50" y="129.00" width="25.00" height="9.60" rx="0" stroke="#000" stroke-width="0.91" fill="#111"/>
<rect x="847.00" y="131.00" width="2.20" height="4.60" rx="0" stroke="none" stroke-width="0" fill="#fff"/>
<rect x="852.40" y="131.00" width="3.00" height="4.60" rx="0" stroke="none" stroke-width="0" fill="#fff"/>
<rect x="858.40" y="131.00" width="2.00" height="4.60" rx="0" stroke="none" stroke-width="0" fill="#fff"/>
<rect x="864.00" y="131.00" width="5.00" height="4.60" rx="0" stroke="none" stroke-width="0" fill="#fff"/>
<rect x="848.00" y="137.00" width="12.00" height="1.20" rx="0" stroke="none" stroke-width="0" fill="#fff"/>
<path d="M864.5 129 L867 125.5 L869.5 129 Z" stroke="#000" stroke-width="0.91" fill="#fff" />
<path d="M871.4 120.8 H874.6 L876.4 124.6 H882 V140.6 H871.4" stroke="#000" stroke-width="2.28" fill="none" />
<rect x="872.80" y="141.20" width="9.60" height="9.80" rx="0" stroke="#000" stroke-width="2.51" fill="none"/>
<rect x="874.60" y="143.20" width="6.00" height="2.40" rx="0" stroke="#000" stroke-width="0.91" fill="#fff"/>
<line x1="875.00" y1="148.40" x2="880.40" y2="148.40" stroke="#000" stroke-width="1.6" stroke-linecap="butt"/>
<path d="M874.5 127.5 Q877 124.5 879.6 127.5 V139 H874.5 Z" stroke="#000" stroke-width="1.25" fill="none" />
<line x1="883.60" y1="129.60" x2="883.60" y2="141.60" stroke="#000" stroke-width="1.6" stroke-linecap="butt"/>
<path d="M874.6 120.6 L910.8 101.6 L912 103.4 L878.4 123.6 Z" stroke="#000" stroke-width="1.37" fill="#000" />
<path d="M872 124.5 Q874 121.2 878 121.5" stroke="#000" stroke-width="1.48" fill="none" />
<path d="M885.2 128.2 H922.4 Q925.2 128.2 925.2 131 V140 Q925.2 142.8 922.4 142.8 H885.2 Z" stroke="#000" stroke-width="1.14" fill="#000" />
<path d="M888.6 131 V140.6" stroke="#fff" stroke-width="1.03" fill="none" />
<path d="M890.8 133.2 L893.4 135.6 L890.8 138.6 Z" stroke="#fff" stroke-width="0.68" fill="#fff" />
<path d="M893 131.8 Q897 135.2 903 135.4 H921" stroke="#fff" stroke-width="1.03" fill="none" />
<path d="M893.5 139.5 L896 137" stroke="#fff" stroke-width="1.03" fill="none" />
<path d="M1165.7 774 L1165.7 616 Q1165.7 607.5 1169.4 605.6 Q1190 599.6 1202 600.6 Q1224 601.4 1233.4 606.4 Q1236.4 608.6 1236.4 616 V768 Q1236.6 776 1231 778.6 Q1211 787 1196 785.6 Q1176.4 782.4 1167.6 777.6 Q1165.7 776 1165.7 774 Z" stroke="#000" stroke-width="2.96" fill="#fff" />
<path d="M1168.9 612 V776 M1235 612 V772" stroke="#000" stroke-width="1.48" fill="none" />
<path d="M1168.9 604.6 C1182.9 604.8 1197.6 606.5 1202.8 606.6 H1208.8 V609.4 H1201.8 C1194.6 609.2 1182.9 607.8 1168.9 607.4" stroke="#000" stroke-width="2.17" fill="#fff" stroke-linejoin="round"/>
<path d="M1168.9 608.8 C1182.9 609.2 1197.6 612.3 1202.8 612.5 H1208.8 V617.5 H1201.8 C1194.6 617.0 1182.9 613.2 1168.9 612.2" stroke="#000" stroke-width="2.17" fill="#fff" stroke-linejoin="round"/>
<path d="M1168.9 624.4 C1182.9 625.5 1197.6 633.3 1202.8 633.8 H1208.8 V643.8 H1201.8 C1194.6 642.6 1182.9 634.1 1168.9 632.0" stroke="#000" stroke-width="2.17" fill="#fff" stroke-linejoin="round"/>
<path d="M1199.8 645.4 C1192.6 644.4 1182.9 636.5 1168.9 634.6" stroke="#000" stroke-width="1.37" fill="none" />
<path d="M1168.9 651.9 C1182.9 653.8 1197.6 666.7 1202.8 667.5 H1208.8 V678.0 H1201.8 C1194.6 676.5 1182.9 665.5 1168.9 662.8" stroke="#000" stroke-width="2.17" fill="#fff" stroke-linejoin="round"/>
<path d="M1199.8 679.6 C1192.6 678.3 1182.9 667.9 1168.9 665.4" stroke="#000" stroke-width="1.37" fill="none" />
<path d="M1168.9 684.4 C1182.9 686.8 1197.6 703.4 1202.8 704.4 H1208.8 V715.6 H1201.8 C1194.6 713.7 1182.9 700.0 1168.9 696.6" stroke="#000" stroke-width="2.17" fill="#fff" stroke-linejoin="round"/>
<path d="M1199.8 717.2 C1192.6 715.5 1182.9 702.4 1168.9 699.2" stroke="#000" stroke-width="1.37" fill="none" />
<path d="M1168.9 716.3 C1182.9 719.0 1197.6 737.7 1202.8 738.8 H1208.8 V749.4 H1201.8 C1194.6 747.2 1182.9 731.8 1168.9 727.9" stroke="#000" stroke-width="2.17" fill="#fff" stroke-linejoin="round"/>
<path d="M1199.8 751.0 C1192.6 749.0 1182.9 734.2 1168.9 730.5" stroke="#000" stroke-width="1.37" fill="none" />
<path d="M1168.9 743.6 C1182.9 746.0 1197.6 762.6 1202.8 763.6 H1208.8 V771.6 H1201.8 C1194.6 769.8 1182.9 756.4 1168.9 753.1" stroke="#000" stroke-width="2.17" fill="#fff" stroke-linejoin="round"/>
<path d="M1199.8 773.2 C1192.6 771.5 1182.9 758.8 1168.9 755.7" stroke="#000" stroke-width="1.37" fill="none" />
<path d="M1168.9 762.4 C1182.9 764.2 1197.6 776.6 1202.8 777.4 H1208.8 V782.0 H1201.8 C1194.6 780.7 1182.9 771.3 1168.9 769.0" stroke="#000" stroke-width="2.17" fill="#fff" stroke-linejoin="round"/>
<path d="M1235.0 603.1 C1221.1 603.2 1206.3 603.6 1201.2 603.6 H1195.2 V606.0 H1202.2 C1209.3 606.0 1221.1 605.6 1235.0 605.5" stroke="#000" stroke-width="2.17" fill="#fff" stroke-linejoin="round"/>
<path d="M1235.0 607.0 C1221.1 607.3 1206.3 609.5 1201.2 609.6 H1195.2 V613.6 H1202.2 C1209.3 613.3 1221.1 611.1 1235.0 610.6" stroke="#000" stroke-width="2.17" fill="#fff" stroke-linejoin="round"/>
<path d="M1235.0 616.2 C1221.1 616.7 1206.3 619.8 1201.2 620.0 H1195.2 V627.0 H1202.2 C1209.3 626.4 1221.1 621.8 1235.0 620.6" stroke="#000" stroke-width="2.17" fill="#fff" stroke-linejoin="round"/>
<path d="M1204.2 628.6 C1211.3 628.2 1221.1 624.2 1235.0 623.2" stroke="#000" stroke-width="1.37" fill="none" />
<path d="M1235.0 636.5 C1221.1 638.1 1206.3 649.0 1201.2 649.7 H1195.2 V660.0 H1202.2 C1209.3 658.6 1221.1 648.9 1235.0 646.5" stroke="#000" stroke-width="2.17" fill="#fff" stroke-linejoin="round"/>
<path d="M1204.2 661.6 C1211.3 660.4 1221.1 651.3 1235.0 649.1" stroke="#000" stroke-width="1.37" fill="none" />
<path d="M1235.0 666.3 C1221.1 668.7 1206.3 685.3 1201.2 686.3 H1195.2 V697.0 H1202.2 C1209.3 695.1 1221.1 681.4 1235.0 678.0" stroke="#000" stroke-width="2.17" fill="#fff" stroke-linejoin="round"/>
<path d="M1204.2 698.6 C1211.3 696.9 1221.1 683.8 1235.0 680.6" stroke="#000" stroke-width="1.37" fill="none" />
<path d="M1235.0 700.0 C1221.1 702.7 1206.3 721.4 1201.2 722.5 H1195.2 V733.0 H1202.2 C1209.3 730.8 1221.1 715.0 1235.0 711.0" stroke="#000" stroke-width="2.17" fill="#fff" stroke-linejoin="round"/>
<path d="M1204.2 734.6 C1211.3 732.6 1221.1 717.4 1235.0 713.6" stroke="#000" stroke-width="1.37" fill="none" />
<path d="M1235.0 733.0 C1221.1 735.4 1206.3 752.0 1201.2 753.0 H1195.2 V763.8 H1202.2 C1209.3 761.9 1221.1 748.2 1235.0 744.8" stroke="#000" stroke-width="2.17" fill="#fff" stroke-linejoin="round"/>
<path d="M1204.2 765.4 C1211.3 763.7 1221.1 750.6 1235.0 747.4" stroke="#000" stroke-width="1.37" fill="none" />
<path d="M1235.0 757.6 C1221.1 759.4 1206.3 771.9 1201.2 772.6 H1195.2 V779.4 H1202.2 C1209.3 778.0 1221.1 767.9 1235.0 765.4" stroke="#000" stroke-width="2.17" fill="#fff" stroke-linejoin="round"/>
<path d="M1204.2 781.0 C1211.3 779.8 1221.1 770.3 1235.0 768.0" stroke="#000" stroke-width="1.37" fill="none" />
<path d="M1169 619.6 Q1184 616 1201 618.6" stroke="#000" stroke-width="1.94" fill="none" />
<path d="M1165.7 774 L1165.7 616 Q1165.7 607.5 1169.4 605.6 Q1190 599.6 1202 600.6 Q1224 601.4 1233.4 606.4 Q1236.4 608.6 1236.4 616 V768 Q1236.6 776 1231 778.6 Q1211 787 1196 785.6 Q1176.4 782.4 1167.6 777.6 Q1165.7 776 1165.7 774 Z" stroke="#000" stroke-width="2.96" fill="none" />
<path d="M1186.6 448 V417.3 A28.8 28.8 0 0 1 1215.4 388.5 H1338" stroke="#000" stroke-width="2.51" fill="none" />
<path d="M1195.7 427 V419.5 A22 22 0 0 1 1217.7 397.5 H1338" stroke="#000" stroke-width="2.51" fill="none" />
<line x1="1217.60" y1="388.50" x2="1217.60" y2="397.50" stroke="#000" stroke-width="1.82" stroke-linecap="butt"/>
<line x1="1186.60" y1="420.60" x2="1195.70" y2="420.60" stroke="#000" stroke-width="1.82" stroke-linecap="butt"/>
<line x1="1189.40" y1="428.10" x2="1338.00" y2="428.10" stroke="#000" stroke-width="3.88" stroke-linecap="butt"/>
<line x1="1190.40" y1="428.00" x2="1190.40" y2="448.00" stroke="#000" stroke-width="2.28" stroke-linecap="butt"/>
<path d="M1338 364.2 H1263 Q1261.4 364.2 1261.3 366 L1259.8 387.8 M1259.4 398 L1258.9 427" stroke="#000" stroke-width="2.96" fill="none" />
<path d="M1264.4 365.2 L1262.8 387.8 M1262.6 398 L1262.2 427" stroke="#000" stroke-width="2.05" fill="none" />
<rect x="1256.40" y="409.00" width="2.60" height="8.40" rx="0" stroke="#000" stroke-width="1.37" fill="#222"/>
<line x1="1185.00" y1="450.60" x2="1338.00" y2="450.60" stroke="#000" stroke-width="4.1" stroke-linecap="butt"/>
<rect x="1184.40" y="447.60" width="15.00" height="9.40" rx="0" stroke="#000" stroke-width="0.57" fill="#000"/>
<rect x="1183.00" y="450.40" width="2.00" height="20.60" rx="0" stroke="#000" stroke-width="0.46" fill="#000"/>
<line x1="1199.40" y1="458.50" x2="1338.00" y2="458.50" stroke="#000" stroke-width="1.94" stroke-linecap="butt"/>
<line x1="1186.30" y1="450.00" x2="1186.30" y2="572.40" stroke="#000" stroke-width="3.42" stroke-linecap="butt"/>
<line x1="1198.50" y1="457.00" x2="1198.50" y2="571.50" stroke="#000" stroke-width="3.42" stroke-linecap="butt"/>
<line x1="1199.00" y1="560.60" x2="1338.00" y2="560.60" stroke="#000" stroke-width="4.1" stroke-linecap="butt"/>
<line x1="1185.00" y1="571.70" x2="1338.00" y2="571.70" stroke="#000" stroke-width="2.51" stroke-linecap="butt"/>
<path d="M1263.2 458.6 V471.6 Q1263.2 473.2 1266 473.2 Q1268.7 473.2 1268.7 471.6 V458.6" stroke="#000" stroke-width="1.6" fill="none" />
<path d="M1178.8 456.5 Q1176.6 454.4 1177.6 458.5 L1180.4 461.6 Q1183 460 1181.4 457.4 Z" stroke="#000" stroke-width="1.37" fill="none" />
<path d="M1180.6 461.4 Q1164 472 1166 488 Q1167.4 496 1173.2 500" stroke="#000" stroke-width="1.6" fill="none" />
<path d="M1182 463.4 Q1167.6 473 1169 487.6 Q1170.4 494.6 1175.4 498" stroke="#000" stroke-width="1.6" fill="none" />
<path d="M1184.6 484.8 H1176 Q1172.4 486.4 1172.6 490 Q1173.4 493.6 1177.2 494.2 L1181 495.4 V507.6 H1184.6" stroke="#000" stroke-width="1.6" fill="none" />
<circle cx="1176.00" cy="489.80" r="1.90" stroke="#000" stroke-width="1.71" fill="none"/>
<path d="M1172.4 499.6 L1179.6 498.6 L1180.2 514.6 L1172.6 515.2 Z" stroke="#000" stroke-width="1.82" fill="none" />
<rect x="1174.40" y="504.00" width="3.60" height="3.40" rx="0" stroke="#000" stroke-width="1.14" fill="#fff"/>
<rect x="1174.40" y="510.00" width="3.60" height="3.00" rx="0" stroke="#000" stroke-width="1.14" fill="#fff"/>
<line x1="1180.60" y1="498.00" x2="1180.60" y2="514.00" stroke="#333" stroke-width="2.05" stroke-linecap="butt"/>
<path d="M1171.6 516.2 H1179.4 L1177.2 548.6 L1175.6 552.4 L1172 549 Z" stroke="#000" stroke-width="1.71" fill="none" />
<line x1="1173.00" y1="547.40" x2="1177.00" y2="547.60" stroke="#000" stroke-width="1.14" stroke-linecap="butt"/>
<rect x="1183.20" y="463.00" width="2.40" height="8.60" rx="0" stroke="#000" stroke-width="0.68" fill="#111"/>
<rect x="1203.00" y="572.60" width="11.40" height="4.40" rx="0" stroke="#000" stroke-width="1.14" fill="#111"/>
<rect x="1200.40" y="578.00" width="15.40" height="5.20" rx="1" stroke="#000" stroke-width="1.82" fill="#fff"/>
<rect x="1203.60" y="584.20" width="10.00" height="5.60" rx="0" stroke="#000" stroke-width="1.37" fill="#111"/>
<path d="M1203 580.6 H1213.6 M1206 586.8 H1208 M1210 586.8 H1212" stroke="#fff" stroke-width="1.6" fill="none" />
<rect x="1197.20" y="594.60" width="13.00" height="6.40" rx="0" stroke="#000" stroke-width="1.82" fill="#fff"/>
<line x1="1194.40" y1="593.00" x2="1338.00" y2="593.00" stroke="#000" stroke-width="4.1" stroke-linecap="butt"/>
<line x1="1210.50" y1="595.40" x2="1248.00" y2="595.40" stroke="#000" stroke-width="4.1" stroke-linecap="butt"/>
<line x1="1248.80" y1="572.40" x2="1248.80" y2="696.60" stroke="#000" stroke-width="3.65" stroke-linecap="butt"/>
<path d="M1248.8 696 Q1249.6 700.6 1252 704 L1264.8 727 H1338" stroke="#000" stroke-width="2.96" fill="none" />
<line x1="1236.00" y1="616.40" x2="1250.00" y2="616.40" stroke="#000" stroke-width="6.38" stroke-linecap="butt"/>
<rect x="1250.00" y="615.00" width="88.00" height="3.30" rx="0" stroke="none" stroke-width="0" fill="#5a5a5a"/>
<line x1="1250.00" y1="614.90" x2="1338.00" y2="614.90" stroke="#000" stroke-width="1.37" stroke-linecap="butt"/>
<line x1="1250.00" y1="618.40" x2="1338.00" y2="618.40" stroke="#000" stroke-width="1.37" stroke-linecap="butt"/>
<line x1="1237.80" y1="618.00" x2="1237.80" y2="705.00" stroke="#000" stroke-width="1.82" stroke-linecap="butt"/>
<path d="M1238 629.6 H1248 M1238 632.4 H1248 M1238 680.6 H1248 M1238 706.6 H1253" stroke="#000" stroke-width="1.6" fill="none" />
<rect x="1238.20" y="690.60" width="3.00" height="3.60" rx="0" stroke="#000" stroke-width="1.25" fill="none"/>
<path d="M1240 708.4 V721.6 M1242.6 708.4 V725 H1245.4 V708.4" stroke="#000" stroke-width="1.6" fill="none" />
<path d="M1247.6 709.6 H1252.4 Q1256.6 713 1255.6 717.6 Q1254 721.4 1250 721 H1247.6 Z" stroke="#000" stroke-width="1.71" fill="#fff" />
<rect x="1248.80" y="711.40" width="3.00" height="3.20" rx="0" stroke="#000" stroke-width="0.91" fill="#fff"/>
<rect x="1248.80" y="716.20" width="3.00" height="3.00" rx="0" stroke="#000" stroke-width="0.91" fill="#fff"/>
<line x1="1250.00" y1="692.00" x2="1338.00" y2="692.00" stroke="#000" stroke-width="3.19" stroke-linecap="butt"/>
<line x1="1256.40" y1="707.30" x2="1338.00" y2="707.30" stroke="#000" stroke-width="2.28" stroke-linecap="butt"/>
<circle cx="1262.40" cy="700.30" r="4.40" fill="#000"/>
<path d="M1267.8 576 Q1267.8 574 1270 574 Q1272.3 574 1272.3 576 V612 Q1272.3 613.6 1270 613.6 Q1267.8 613.6 1267.8 612 Z" stroke="#000" stroke-width="1.48" fill="#fff" />
<line x1="1267.80" y1="591.00" x2="1272.30" y2="591.00" stroke="#000" stroke-width="1.14" stroke-linecap="butt"/>
<path d="M1304.4 573 V595.6 Q1305.6 597.4 1306.9 595.6 V573" stroke="#000" stroke-width="1.48" fill="none" />
<line x1="1273.60" y1="578.80" x2="1338.00" y2="578.80" stroke="#000" stroke-width="1.48" stroke-linecap="butt"/>
<path d="M1250 573 H1258 M1262 573 H1268" stroke="#000" stroke-width="2.28" fill="none" />
<rect x="1250.60" y="573.00" width="16.00" height="5.00" rx="0" stroke="#000" stroke-width="0.91" fill="#111"/>
<path d="M1252 575 H1256 M1259 575.4 L1262 573.6 L1264 576" stroke="#fff" stroke-width="1.14" fill="none" />
<rect x="1251.50" y="579.60" width="12.00" height="3.20" rx="0" stroke="#000" stroke-width="1.37" fill="#fff"/>
<path d="M1251 585 H1256 M1258.8 584 V591 M1261.6 583.6 H1266 V587 H1261.6 M1261.6 589 H1266 V592 H1261.6" stroke="#000" stroke-width="1.6" fill="none" />
<line x1="1273.60" y1="576.00" x2="1288.00" y2="576.00" stroke="#000" stroke-width="1.37" stroke-linecap="butt"/>
<path d="M1290 575.6 L1285 578.6 M1296 575.6 L1291.5 578.6" stroke="#000" stroke-width="1.14" fill="none" />
<path d="M1290 575.4 H1303 M1309 576 H1318 M1322 576 H1332" stroke="#000" stroke-width="1.48" fill="none" />
<g transform="translate(2676.0,0) scale(-1,1)">
<path d="M1165.7 774 L1165.7 616 Q1165.7 607.5 1169.4 605.6 Q1190 599.6 1202 600.6 Q1224 601.4 1233.4 606.4 Q1236.4 608.6 1236.4 616 V768 Q1236.6 776 1231 778.6 Q1211 787 1196 785.6 Q1176.4 782.4 1167.6 777.6 Q1165.7 776 1165.7 774 Z" stroke="#000" stroke-width="2.96" fill="#fff" />
<path d="M1168.9 612 V776 M1235 612 V772" stroke="#000" stroke-width="1.48" fill="none" />
<path d="M1168.9 604.6 C1182.9 604.8 1197.6 606.5 1202.8 606.6 H1208.8 V609.4 H1201.8 C1194.6 609.2 1182.9 607.8 1168.9 607.4" stroke="#000" stroke-width="2.17" fill="#fff" stroke-linejoin="round"/>
<path d="M1168.9 608.8 C1182.9 609.2 1197.6 612.3 1202.8 612.5 H1208.8 V617.5 H1201.8 C1194.6 617.0 1182.9 613.2 1168.9 612.2" stroke="#000" stroke-width="2.17" fill="#fff" stroke-linejoin="round"/>
<path d="M1168.9 624.4 C1182.9 625.5 1197.6 633.3 1202.8 633.8 H1208.8 V643.8 H1201.8 C1194.6 642.6 1182.9 634.1 1168.9 632.0" stroke="#000" stroke-width="2.17" fill="#fff" stroke-linejoin="round"/>
<path d="M1199.8 645.4 C1192.6 644.4 1182.9 636.5 1168.9 634.6" stroke="#000" stroke-width="1.37" fill="none" />
<path d="M1168.9 651.9 C1182.9 653.8 1197.6 666.7 1202.8 667.5 H1208.8 V678.0 H1201.8 C1194.6 676.5 1182.9 665.5 1168.9 662.8" stroke="#000" stroke-width="2.17" fill="#fff" stroke-linejoin="round"/>
<path d="M1199.8 679.6 C1192.6 678.3 1182.9 667.9 1168.9 665.4" stroke="#000" stroke-width="1.37" fill="none" />
<path d="M1168.9 684.4 C1182.9 686.8 1197.6 703.4 1202.8 704.4 H1208.8 V715.6 H1201.8 C1194.6 713.7 1182.9 700.0 1168.9 696.6" stroke="#000" stroke-width="2.17" fill="#fff" stroke-linejoin="round"/>
<path d="M1199.8 717.2 C1192.6 715.5 1182.9 702.4 1168.9 699.2" stroke="#000" stroke-width="1.37" fill="none" />
<path d="M1168.9 716.3 C1182.9 719.0 1197.6 737.7 1202.8 738.8 H1208.8 V749.4 H1201.8 C1194.6 747.2 1182.9 731.8 1168.9 727.9" stroke="#000" stroke-width="2.17" fill="#fff" stroke-linejoin="round"/>
<path d="M1199.8 751.0 C1192.6 749.0 1182.9 734.2 1168.9 730.5" stroke="#000" stroke-width="1.37" fill="none" />
<path d="M1168.9 743.6 C1182.9 746.0 1197.6 762.6 1202.8 763.6 H1208.8 V771.6 H1201.8 C1194.6 769.8 1182.9 756.4 1168.9 753.1" stroke="#000" stroke-width="2.17" fill="#fff" stroke-linejoin="round"/>
<path d="M1199.8 773.2 C1192.6 771.5 1182.9 758.8 1168.9 755.7" stroke="#000" stroke-width="1.37" fill="none" />
<path d="M1168.9 762.4 C1182.9 764.2 1197.6 776.6 1202.8 777.4 H1208.8 V782.0 H1201.8 C1194.6 780.7 1182.9 771.3 1168.9 769.0" stroke="#000" stroke-width="2.17" fill="#fff" stroke-linejoin="round"/>
<path d="M1235.0 603.1 C1221.1 603.2 1206.3 603.6 1201.2 603.6 H1195.2 V606.0 H1202.2 C1209.3 606.0 1221.1 605.6 1235.0 605.5" stroke="#000" stroke-width="2.17" fill="#fff" stroke-linejoin="round"/>
<path d="M1235.0 607.0 C1221.1 607.3 1206.3 609.5 1201.2 609.6 H1195.2 V613.6 H1202.2 C1209.3 613.3 1221.1 611.1 1235.0 610.6" stroke="#000" stroke-width="2.17" fill="#fff" stroke-linejoin="round"/>
<path d="M1235.0 616.2 C1221.1 616.7 1206.3 619.8 1201.2 620.0 H1195.2 V627.0 H1202.2 C1209.3 626.4 1221.1 621.8 1235.0 620.6" stroke="#000" stroke-width="2.17" fill="#fff" stroke-linejoin="round"/>
<path d="M1204.2 628.6 C1211.3 628.2 1221.1 624.2 1235.0 623.2" stroke="#000" stroke-width="1.37" fill="none" />
<path d="M1235.0 636.5 C1221.1 638.1 1206.3 649.0 1201.2 649.7 H1195.2 V660.0 H1202.2 C1209.3 658.6 1221.1 648.9 1235.0 646.5" stroke="#000" stroke-width="2.17" fill="#fff" stroke-linejoin="round"/>
<path d="M1204.2 661.6 C1211.3 660.4 1221.1 651.3 1235.0 649.1" stroke="#000" stroke-width="1.37" fill="none" />
<path d="M1235.0 666.3 C1221.1 668.7 1206.3 685.3 1201.2 686.3 H1195.2 V697.0 H1202.2 C1209.3 695.1 1221.1 681.4 1235.0 678.0" stroke="#000" stroke-width="2.17" fill="#fff" stroke-linejoin="round"/>
<path d="M1204.2 698.6 C1211.3 696.9 1221.1 683.8 1235.0 680.6" stroke="#000" stroke-width="1.37" fill="none" />
<path d="M1235.0 700.0 C1221.1 702.7 1206.3 721.4 1201.2 722.5 H1195.2 V733.0 H1202.2 C1209.3 730.8 1221.1 715.0 1235.0 711.0" stroke="#000" stroke-width="2.17" fill="#fff" stroke-linejoin="round"/>
<path d="M1204.2 734.6 C1211.3 732.6 1221.1 717.4 1235.0 713.6" stroke="#000" stroke-width="1.37" fill="none" />
<path d="M1235.0 733.0 C1221.1 735.4 1206.3 752.0 1201.2 753.0 H1195.2 V763.8 H1202.2 C1209.3 761.9 1221.1 748.2 1235.0 744.8" stroke="#000" stroke-width="2.17" fill="#fff" stroke-linejoin="round"/>
<path d="M1204.2 765.4 C1211.3 763.7 1221.1 750.6 1235.0 747.4" stroke="#000" stroke-width="1.37" fill="none" />
<path d="M1235.0 757.6 C1221.1 759.4 1206.3 771.9 1201.2 772.6 H1195.2 V779.4 H1202.2 C1209.3 778.0 1221.1 767.9 1235.0 765.4" stroke="#000" stroke-width="2.17" fill="#fff" stroke-linejoin="round"/>
<path d="M1204.2 781.0 C1211.3 779.8 1221.1 770.3 1235.0 768.0" stroke="#000" stroke-width="1.37" fill="none" />
<path d="M1169 619.6 Q1184 616 1201 618.6" stroke="#000" stroke-width="1.94" fill="none" />
<path d="M1165.7 774 L1165.7 616 Q1165.7 607.5 1169.4 605.6 Q1190 599.6 1202 600.6 Q1224 601.4 1233.4 606.4 Q1236.4 608.6 1236.4 616 V768 Q1236.6 776 1231 778.6 Q1211 787 1196 785.6 Q1176.4 782.4 1167.6 777.6 Q1165.7 776 1165.7 774 Z" stroke="#000" stroke-width="2.96" fill="none" />
<path d="M1186.6 448 V417.3 A28.8 28.8 0 0 1 1215.4 388.5 H1338" stroke="#000" stroke-width="2.51" fill="none" />
<path d="M1195.7 427 V419.5 A22 22 0 0 1 1217.7 397.5 H1338" stroke="#000" stroke-width="2.51" fill="none" />
<line x1="1217.60" y1="388.50" x2="1217.60" y2="397.50" stroke="#000" stroke-width="1.82" stroke-linecap="butt"/>
<line x1="1186.60" y1="420.60" x2="1195.70" y2="420.60" stroke="#000" stroke-width="1.82" stroke-linecap="butt"/>
<line x1="1189.40" y1="428.10" x2="1338.00" y2="428.10" stroke="#000" stroke-width="3.88" stroke-linecap="butt"/>
<line x1="1190.40" y1="428.00" x2="1190.40" y2="448.00" stroke="#000" stroke-width="2.28" stroke-linecap="butt"/>
<path d="M1338 364.2 H1263 Q1261.4 364.2 1261.3 366 L1259.8 387.8 M1259.4 398 L1258.9 427" stroke="#000" stroke-width="2.96" fill="none" />
<path d="M1264.4 365.2 L1262.8 387.8 M1262.6 398 L1262.2 427" stroke="#000" stroke-width="2.05" fill="none" />
<rect x="1256.40" y="409.00" width="2.60" height="8.40" rx="0" stroke="#000" stroke-width="1.37" fill="#222"/>
<line x1="1185.00" y1="450.60" x2="1338.00" y2="450.60" stroke="#000" stroke-width="4.1" stroke-linecap="butt"/>
<rect x="1184.40" y="447.60" width="15.00" height="9.40" rx="0" stroke="#000" stroke-width="0.57" fill="#000"/>
<rect x="1183.00" y="450.40" width="2.00" height="20.60" rx="0" stroke="#000" stroke-width="0.46" fill="#000"/>
<line x1="1199.40" y1="458.50" x2="1338.00" y2="458.50" stroke="#000" stroke-width="1.94" stroke-linecap="butt"/>
<line x1="1186.30" y1="450.00" x2="1186.30" y2="572.40" stroke="#000" stroke-width="3.42" stroke-linecap="butt"/>
<line x1="1198.50" y1="457.00" x2="1198.50" y2="571.50" stroke="#000" stroke-width="3.42" stroke-linecap="butt"/>
<line x1="1199.00" y1="560.60" x2="1338.00" y2="560.60" stroke="#000" stroke-width="4.1" stroke-linecap="butt"/>
<line x1="1185.00" y1="571.70" x2="1338.00" y2="571.70" stroke="#000" stroke-width="2.51" stroke-linecap="butt"/>
<path d="M1263.2 458.6 V471.6 Q1263.2 473.2 1266 473.2 Q1268.7 473.2 1268.7 471.6 V458.6" stroke="#000" stroke-width="1.6" fill="none" />
<path d="M1178.8 456.5 Q1176.6 454.4 1177.6 458.5 L1180.4 461.6 Q1183 460 1181.4 457.4 Z" stroke="#000" stroke-width="1.37" fill="none" />
<path d="M1180.6 461.4 Q1164 472 1166 488 Q1167.4 496 1173.2 500" stroke="#000" stroke-width="1.6" fill="none" />
<path d="M1182 463.4 Q1167.6 473 1169 487.6 Q1170.4 494.6 1175.4 498" stroke="#000" stroke-width="1.6" fill="none" />
<path d="M1184.6 484.8 H1176 Q1172.4 486.4 1172.6 490 Q1173.4 493.6 1177.2 494.2 L1181 495.4 V507.6 H1184.6" stroke="#000" stroke-width="1.6" fill="none" />
<circle cx="1176.00" cy="489.80" r="1.90" stroke="#000" stroke-width="1.71" fill="none"/>
<path d="M1172.4 499.6 L1179.6 498.6 L1180.2 514.6 L1172.6 515.2 Z" stroke="#000" stroke-width="1.82" fill="none" />
<rect x="1174.40" y="504.00" width="3.60" height="3.40" rx="0" stroke="#000" stroke-width="1.14" fill="#fff"/>
<rect x="1174.40" y="510.00" width="3.60" height="3.00" rx="0" stroke="#000" stroke-width="1.14" fill="#fff"/>
<line x1="1180.60" y1="498.00" x2="1180.60" y2="514.00" stroke="#333" stroke-width="2.05" stroke-linecap="butt"/>
<path d="M1171.6 516.2 H1179.4 L1177.2 548.6 L1175.6 552.4 L1172 549 Z" stroke="#000" stroke-width="1.71" fill="none" />
<line x1="1173.00" y1="547.40" x2="1177.00" y2="547.60" stroke="#000" stroke-width="1.14" stroke-linecap="butt"/>
<rect x="1183.20" y="463.00" width="2.40" height="8.60" rx="0" stroke="#000" stroke-width="0.68" fill="#111"/>
<rect x="1203.00" y="572.60" width="11.40" height="4.40" rx="0" stroke="#000" stroke-width="1.14" fill="#111"/>
<rect x="1200.40" y="578.00" width="15.40" height="5.20" rx="1" stroke="#000" stroke-width="1.82" fill="#fff"/>
<rect x="1203.60" y="584.20" width="10.00" height="5.60" rx="0" stroke="#000" stroke-width="1.37" fill="#111"/>
<path d="M1203 580.6 H1213.6 M1206 586.8 H1208 M1210 586.8 H1212" stroke="#fff" stroke-width="1.6" fill="none" />
<rect x="1197.20" y="594.60" width="13.00" height="6.40" rx="0" stroke="#000" stroke-width="1.82" fill="#fff"/>
<line x1="1194.40" y1="593.00" x2="1338.00" y2="593.00" stroke="#000" stroke-width="4.1" stroke-linecap="butt"/>
<line x1="1210.50" y1="595.40" x2="1248.00" y2="595.40" stroke="#000" stroke-width="4.1" stroke-linecap="butt"/>
<line x1="1248.80" y1="572.40" x2="1248.80" y2="696.60" stroke="#000" stroke-width="3.65" stroke-linecap="butt"/>
<path d="M1248.8 696 Q1249.6 700.6 1252 704 L1264.8 727 H1338" stroke="#000" stroke-width="2.96" fill="none" />
<line x1="1236.00" y1="616.40" x2="1250.00" y2="616.40" stroke="#000" stroke-width="6.38" stroke-linecap="butt"/>
<rect x="1250.00" y="615.00" width="88.00" height="3.30" rx="0" stroke="none" stroke-width="0" fill="#5a5a5a"/>
<line x1="1250.00" y1="614.90" x2="1338.00" y2="614.90" stroke="#000" stroke-width="1.37" stroke-linecap="butt"/>
<line x1="1250.00" y1="618.40" x2="1338.00" y2="618.40" stroke="#000" stroke-width="1.37" stroke-linecap="butt"/>
<line x1="1237.80" y1="618.00" x2="1237.80" y2="705.00" stroke="#000" stroke-width="1.82" stroke-linecap="butt"/>
<path d="M1238 629.6 H1248 M1238 632.4 H1248 M1238 680.6 H1248 M1238 706.6 H1253" stroke="#000" stroke-width="1.6" fill="none" />
<rect x="1238.20" y="690.60" width="3.00" height="3.60" rx="0" stroke="#000" stroke-width="1.25" fill="none"/>
<path d="M1240 708.4 V721.6 M1242.6 708.4 V725 H1245.4 V708.4" stroke="#000" stroke-width="1.6" fill="none" />
<path d="M1247.6 709.6 H1252.4 Q1256.6 713 1255.6 717.6 Q1254 721.4 1250 721 H1247.6 Z" stroke="#000" stroke-width="1.71" fill="#fff" />
<rect x="1248.80" y="711.40" width="3.00" height="3.20" rx="0" stroke="#000" stroke-width="0.91" fill="#fff"/>
<rect x="1248.80" y="716.20" width="3.00" height="3.00" rx="0" stroke="#000" stroke-width="0.91" fill="#fff"/>
<line x1="1250.00" y1="692.00" x2="1338.00" y2="692.00" stroke="#000" stroke-width="3.19" stroke-linecap="butt"/>
<line x1="1256.40" y1="707.30" x2="1338.00" y2="707.30" stroke="#000" stroke-width="2.28" stroke-linecap="butt"/>
<circle cx="1262.40" cy="700.30" r="4.40" fill="#000"/>
<path d="M1267.8 576 Q1267.8 574 1270 574 Q1272.3 574 1272.3 576 V612 Q1272.3 613.6 1270 613.6 Q1267.8 613.6 1267.8 612 Z" stroke="#000" stroke-width="1.48" fill="#fff" />
<line x1="1267.80" y1="591.00" x2="1272.30" y2="591.00" stroke="#000" stroke-width="1.14" stroke-linecap="butt"/>
<path d="M1304.4 573 V595.6 Q1305.6 597.4 1306.9 595.6 V573" stroke="#000" stroke-width="1.48" fill="none" />
<line x1="1273.60" y1="578.80" x2="1338.00" y2="578.80" stroke="#000" stroke-width="1.48" stroke-linecap="butt"/>
<path d="M1250 573 H1258 M1262 573 H1268" stroke="#000" stroke-width="2.28" fill="none" />
<rect x="1250.60" y="573.00" width="16.00" height="5.00" rx="0" stroke="#000" stroke-width="0.91" fill="#111"/>
<path d="M1252 575 H1256 M1259 575.4 L1262 573.6 L1264 576" stroke="#fff" stroke-width="1.14" fill="none" />
<rect x="1251.50" y="579.60" width="12.00" height="3.20" rx="0" stroke="#000" stroke-width="1.37" fill="#fff"/>
<path d="M1251 585 H1256 M1258.8 584 V591 M1261.6 583.6 H1266 V587 H1261.6 M1261.6 589 H1266 V592 H1261.6" stroke="#000" stroke-width="1.6" fill="none" />
<line x1="1273.60" y1="576.00" x2="1288.00" y2="576.00" stroke="#000" stroke-width="1.37" stroke-linecap="butt"/>
<path d="M1290 575.6 L1285 578.6 M1296 575.6 L1291.5 578.6" stroke="#000" stroke-width="1.14" fill="none" />
<path d="M1290 575.4 H1303 M1309 576 H1318 M1322 576 H1332" stroke="#000" stroke-width="1.48" fill="none" />
</g>
<rect x="1274.40" y="324.40" width="37.70" height="34.40" rx="2.5" stroke="#000" stroke-width="3.19" fill="none"/>
<rect x="1281.90" y="330.00" width="23.10" height="23.10" rx="0" stroke="#000" stroke-width="2.74" fill="none"/>
<path d="M1280 327.2 H1306.6 M1280 356 H1306.6" stroke="#000" stroke-width="1.82" fill="none" />
<path d="M1277.6 330 V337 M1277.6 341 V348 M1308.8 330 V337 M1308.8 341 V348 M1277.6 351 V354 M1308.8 351 V354" stroke="#000" stroke-width="2.05" fill="none" />
<path d="M1279.6 358.8 V363.6 M1307.3 358.8 V363.6" stroke="#000" stroke-width="2.51" fill="none" />
<path d="M1282 359 V363.6 M1305 359 V363.6" stroke="#000" stroke-width="1.37" fill="none" />
<path d="M1381.8 363.6 Q1382 359.4 1387.2 359.3 Q1392.4 359.4 1392.6 363.6" stroke="#000" stroke-width="2.05" fill="none" />
<circle cx="1338.00" cy="585.00" r="3.00" fill="#000"/>
<path d="M1299 632.4 Q1338 628.4 1377 632.4 Q1381.8 633.6 1381.8 638 V651 Q1381.8 655.6 1377 656.8 Q1338 660.8 1299 656.8 Q1294.2 655.6 1294.2 651 V638 Q1294.2 633.6 1299 632.4 Z" stroke="#000" stroke-width="2.28" fill="none" />
<rect x="1305.40" y="636.20" width="65.20" height="16.40" rx="1.5" stroke="#000" stroke-width="5.02" fill="none"/>
<path d="M1306 633.2 Q1338 630.2 1370 633.2 M1306 656 Q1338 659 1370 656" stroke="#000" stroke-width="2.51" fill="none" />
<path d="M1303.4 634 V655 M1372.6 634 V655" stroke="#000" stroke-width="1.37" fill="none" />
<circle cx="1299.20" cy="644.40" r="2.30" stroke="#000" stroke-width="1.82" fill="#111"/>
<circle cx="1376.80" cy="644.40" r="2.30" stroke="#000" stroke-width="1.82" fill="#111"/>
<path d="M1193 350.5 Q1191.6 340.6 1198.6 337.6 Q1206 334.4 1212.6 339 Q1217.6 343.6 1216.4 350.6" stroke="#000" stroke-width="2.74" fill="none" />
<path d="M1208.4 344.1 L1256.2 388.2" stroke="#000" stroke-width="2.51" fill="none" />
<path d="M1200.4 352.1 L1240 388.2" stroke="#000" stroke-width="2.51" fill="none" />
<path d="M1200.4 352.1 A5.6 5.6 0 1 1 1208.4 344.1" stroke="#000" stroke-width="2.51" fill="none" />
<path d="M1207 358 L1213.6 349" stroke="#000" stroke-width="1.6" fill="none" />
<path d="M1246 388 Q1248 385.4 1251.6 386.2 Q1254 386.8 1254.6 388" stroke="#000" stroke-width="1.48" fill="none" />
<path d="M1193 350.5 Q1192 353.6 1186.4 357.6" stroke="#000" stroke-width="2.51" fill="none" />
<path d="M1186.4 357.8 Q1199 361.4 1212.5 371.4 Q1226 380.6 1235.4 388.2" stroke="#000" stroke-width="1.71" fill="none" />
<path d="M1190 358 Q1202 361 1214 369.6 Q1229 380.4 1237.2 388.2" stroke="#000" stroke-width="1.48" fill="none" />
<path d="M1186.4 357.8 L1196 359.4 L1203.4 362.8 L1203 360 L1198 358 Z" stroke="#000" stroke-width="1.14" fill="#000" />
<path d="M1199.6 359.4 L1201 356.6 L1204.4 360.6" stroke="#000" stroke-width="1.48" fill="none" />
<path d="M1214.6 366.6 L1222 372.8" stroke="#000" stroke-width="1.37" fill="none" />
<path d="M1242.4 398.6 Q1250 410 1252.2 427" stroke="#000" stroke-width="1.6" fill="none" />
<path d="M1246 398.6 Q1253 411 1254.6 427" stroke="#000" stroke-width="1.37" fill="none" />
<path d="M1243.6 398.6 Q1249 405 1251 414" stroke="#000" stroke-width="1.14" fill="none" />
<path d="M1255.4 407 V427" stroke="#000" stroke-width="1.48" fill="none" />
<path d="M1462 330 L1465.6 312 Q1466.4 309.2 1469 309.2 H1474.6 Q1477 309.2 1477.6 312 L1482 330 Z" stroke="#000" stroke-width="2.51" fill="none" />
<path d="M1468.8 311 L1465 328.4 M1475 311 L1478.2 328.4" stroke="#000" stroke-width="1.82" fill="none" />
<path d="M1460.8 330.4 H1483 V349 Q1483 352 1481 352 M1460.8 330.4 V351" stroke="#000" stroke-width="2.51" fill="none" />
<rect x="1462.00" y="331.60" width="19.60" height="8.60" rx="0" stroke="#000" stroke-width="0.68" fill="#111"/>
<rect x="1463.00" y="332.40" width="1.80" height="5.40" rx="0" stroke="none" stroke-width="0" fill="#fff"/>
<rect x="1468.60" y="332.40" width="1.80" height="5.40" rx="0" stroke="none" stroke-width="0" fill="#fff"/>
<rect x="1474.20" y="332.40" width="1.80" height="5.40" rx="0" stroke="none" stroke-width="0" fill="#fff"/>
<rect x="1479.00" y="332.40" width="1.80" height="5.40" rx="0" stroke="none" stroke-width="0" fill="#fff"/>
<path d="M1462 342 V351 M1464.6 342 V349 M1479 342 V351 M1481.4 342 V350" stroke="#000" stroke-width="1.6" fill="none" />
<path d="M1466.6 355.4 Q1468 359.6 1473.6 359.4 Q1480.4 358 1481 351.4" stroke="#000" stroke-width="2.28" fill="none" />
<path d="M1469.6 354.6 Q1472 356.6 1475 355.6 Q1477.6 354 1477.2 350" stroke="#000" stroke-width="1.48" fill="none" />
<path d="M1464.6 349 Q1462.6 352 1465.4 353.4" stroke="#000" stroke-width="1.6" fill="none" />
<path d="M1461 351.8 L1420.4 388.3" stroke="#000" stroke-width="2.51" fill="none" />
<path d="M1466.4 358.6 L1438.6 388.3" stroke="#000" stroke-width="2.51" fill="none" />
<path d="M1421.6 388 Q1424.4 385.6 1428.4 387.6" stroke="#000" stroke-width="1.48" fill="none" />
<path d="M1470.8 333 Q1470.6 347 1465.6 357.4 Q1457 371 1440.4 388.3" stroke="#000" stroke-width="1.48" fill="none" />
<path d="M1472.6 333 Q1472.6 348 1467.4 358.6 Q1459 372.4 1443 388.3" stroke="#000" stroke-width="1.48" fill="none" />
<path d="M1432.6 398.6 Q1427 412 1426.2 427" stroke="#000" stroke-width="1.48" fill="none" />
<path d="M1435.6 398.6 Q1429.6 412 1428.6 427" stroke="#000" stroke-width="1.48" fill="none" />
<path d="M1420 407 V427" stroke="#000" stroke-width="1.48" fill="none" />
<path d="M275.6 745.5 L280.6 729.2 Q281.4 727.6 291 727 H435 Q445.4 727.6 446.6 729.2 L452.6 745.5" stroke="#000" stroke-width="2.05" fill="#fff" />
<line x1="289.00" y1="727.40" x2="437.00" y2="727.40" stroke="#000" stroke-width="4.56" stroke-linecap="butt"/>
<line x1="277.50" y1="745.20" x2="285.00" y2="729.60" stroke="#000" stroke-width="1.37" stroke-linecap="butt"/>
<line x1="280.62" y1="745.20" x2="289.38" y2="729.60" stroke="#000" stroke-width="1.37" stroke-linecap="butt"/>
<line x1="283.75" y1="745.20" x2="296.25" y2="729.60" stroke="#000" stroke-width="2.51" stroke-linecap="butt"/>
<line x1="290.00" y1="745.20" x2="303.75" y2="729.60" stroke="#000" stroke-width="2.51" stroke-linecap="butt"/>
<line x1="297.50" y1="745.20" x2="311.25" y2="729.60" stroke="#000" stroke-width="2.51" stroke-linecap="butt"/>
<line x1="305.00" y1="745.20" x2="318.75" y2="729.60" stroke="#000" stroke-width="2.28" stroke-linecap="butt"/>
<line x1="325.00" y1="745.20" x2="335.00" y2="729.60" stroke="#000" stroke-width="2.74" stroke-linecap="butt"/>
<line x1="334.38" y1="745.20" x2="346.25" y2="729.60" stroke="#000" stroke-width="1.37" stroke-linecap="butt"/>
<line x1="336.50" y1="745.20" x2="348.50" y2="729.60" stroke="#000" stroke-width="1.37" stroke-linecap="butt"/>
<line x1="360.00" y1="745.20" x2="370.00" y2="729.60" stroke="#000" stroke-width="2.74" stroke-linecap="butt"/>
<line x1="370.00" y1="745.20" x2="380.00" y2="729.60" stroke="#000" stroke-width="2.96" stroke-linecap="butt"/>
<line x1="395.00" y1="745.20" x2="401.25" y2="729.60" stroke="#000" stroke-width="3.42" stroke-linecap="butt"/>
<line x1="406.25" y1="745.20" x2="411.88" y2="729.60" stroke="#000" stroke-width="1.6" stroke-linecap="butt"/>
<line x1="423.12" y1="745.20" x2="423.12" y2="729.60" stroke="#000" stroke-width="1.37" stroke-linecap="butt"/>
<line x1="425.25" y1="745.20" x2="424.75" y2="729.60" stroke="#000" stroke-width="1.37" stroke-linecap="butt"/>
<line x1="428.12" y1="745.20" x2="429.38" y2="729.60" stroke="#000" stroke-width="1.6" stroke-linecap="butt"/>
<line x1="435.00" y1="745.20" x2="435.00" y2="729.60" stroke="#000" stroke-width="2.51" stroke-linecap="butt"/>
<line x1="440.00" y1="745.20" x2="437.50" y2="729.60" stroke="#000" stroke-width="1.6" stroke-linecap="butt"/>
<line x1="446.25" y1="745.20" x2="443.75" y2="729.60" stroke="#000" stroke-width="1.6" stroke-linecap="butt"/>
<line x1="193.80" y1="743.50" x2="193.80" y2="894.00" stroke="#000" stroke-width="3.65" stroke-linecap="butt"/>
<line x1="205.60" y1="746.50" x2="205.60" y2="894.00" stroke="#000" stroke-width="5.7" stroke-linecap="butt"/>
<line x1="192.20" y1="746.50" x2="658.00" y2="746.50" stroke="#000" stroke-width="3.65" stroke-linecap="butt"/>
<line x1="192.20" y1="758.80" x2="647.40" y2="758.80" stroke="#000" stroke-width="5.7" stroke-linecap="butt"/>
<line x1="217.60" y1="746.50" x2="217.60" y2="757.00" stroke="#000" stroke-width="2.51" stroke-linecap="butt"/>
<rect x="192.40" y="743.20" width="24.60" height="2.40" rx="0" stroke="#000" stroke-width="0.57" fill="#111"/>
<line x1="631.40" y1="746.50" x2="631.40" y2="757.00" stroke="#000" stroke-width="2.51" stroke-linecap="butt"/>
<line x1="642.40" y1="746.50" x2="642.40" y2="757.00" stroke="#000" stroke-width="2.51" stroke-linecap="butt"/>
<rect x="632.00" y="743.20" width="24.40" height="2.40" rx="0" stroke="#000" stroke-width="0.57" fill="#111"/>
<line x1="645.60" y1="757.00" x2="645.60" y2="894.00" stroke="#000" stroke-width="4.56" stroke-linecap="butt"/>
<line x1="656.90" y1="746.00" x2="656.90" y2="894.00" stroke="#000" stroke-width="5.24" stroke-linecap="butt"/>
<path d="M647.6 894 V751.5 Q647.6 747.6 651.2 747.6 Q654.8 747.6 654.8 751.5 V894" stroke="#000" stroke-width="1.37" fill="none" />
<line x1="647.60" y1="777.00" x2="654.80" y2="777.00" stroke="#000" stroke-width="1.48" stroke-linecap="butt"/>
<path d="M194.2 742 V728.4 M203.79999999999998 742 V728.4" stroke="#000" stroke-width="3.65" fill="none" stroke-linecap="round"/>
<path d="M194.2 741 V729.4 M203.79999999999998 741 V729.4" stroke="#fff" stroke-width="0.91" fill="none" />
<rect x="195.80" y="732.40" width="6.40" height="8.00" rx="0" stroke="#000" stroke-width="0.68" fill="#111"/>
<path d="M193.79999999999998 740 Q199.0 745.4 204.2 740" stroke="#000" stroke-width="1.6" fill="none" />
<path d="M647.8 742 V728.4 M657.4 742 V728.4" stroke="#000" stroke-width="3.65" fill="none" stroke-linecap="round"/>
<path d="M647.8 741 V729.4 M657.4 741 V729.4" stroke="#fff" stroke-width="0.91" fill="none" />
<rect x="649.40" y="732.40" width="6.40" height="8.00" rx="0" stroke="#000" stroke-width="0.68" fill="#111"/>
<path d="M647.4 740 Q652.5999999999999 745.4 657.8 740" stroke="#000" stroke-width="1.6" fill="none" />
<rect x="659.40" y="767.20" width="13.00" height="20.80" rx="0" stroke="#000" stroke-width="1.71" fill="none"/>
<rect x="661.60" y="763.40" width="8.60" height="3.60" rx="0" stroke="#000" stroke-width="1.48" fill="#333"/>
<rect x="658.60" y="769.60" width="13.00" height="5.40" rx="0" stroke="#000" stroke-width="0.91" fill="#111"/>
<path d="M659.4 771.2 H671.6 M659.4 773.4 H671.6" stroke="#fff" stroke-width="0.8" fill="none" />
<path d="M661.6 775.4 Q662 780.6 666 780.6 Q670 780.6 670.2 775.4" stroke="#000" stroke-width="1.82" fill="none" />
<path d="M664 775.6 V777.8 M668 775.6 V777.8" stroke="#000" stroke-width="1.6" fill="none" />
<path d="M659.4 806.3 H688" stroke="#000" stroke-width="1.48" fill="none" />
<circle cx="319.50" cy="874.80" r="1.60" fill="#000"/>
<circle cx="583.70" cy="874.80" r="1.60" fill="#000"/>
<path d="M714 740.8 H828 Q842 741 842 755 V783.4 Q842 797.4 828 797.4 H714 Q700 790 700 769 Q700 748 714 740.8 Z" stroke="#000" stroke-width="1.82" fill="#fff" />
<g clip-path="url(#finclip)">
<line x1="700.00" y1="743.30" x2="842.00" y2="743.30" stroke="#000" stroke-width="3.19" stroke-linecap="butt"/>
<line x1="700.00" y1="747.70" x2="842.00" y2="747.70" stroke="#000" stroke-width="3.19" stroke-linecap="butt"/>
<line x1="700.00" y1="752.60" x2="842.00" y2="752.60" stroke="#000" stroke-width="3.19" stroke-linecap="butt"/>
<line x1="700.00" y1="758.10" x2="842.00" y2="758.10" stroke="#000" stroke-width="3.19" stroke-linecap="butt"/>
<line x1="700.00" y1="763.70" x2="842.00" y2="763.70" stroke="#000" stroke-width="3.19" stroke-linecap="butt"/>
<line x1="700.00" y1="769.30" x2="842.00" y2="769.30" stroke="#000" stroke-width="3.19" stroke-linecap="butt"/>
<line x1="700.00" y1="774.90" x2="842.00" y2="774.90" stroke="#000" stroke-width="3.19" stroke-linecap="butt"/>
<line x1="700.00" y1="780.50" x2="842.00" y2="780.50" stroke="#000" stroke-width="3.19" stroke-linecap="butt"/>
<line x1="700.00" y1="786.10" x2="842.00" y2="786.10" stroke="#000" stroke-width="3.19" stroke-linecap="butt"/>
<line x1="700.00" y1="791.60" x2="842.00" y2="791.60" stroke="#000" stroke-width="3.19" stroke-linecap="butt"/>
<line x1="700.00" y1="795.80" x2="842.00" y2="795.80" stroke="#000" stroke-width="3.19" stroke-linecap="butt"/>
</g>
<path d="M723.4 741 Q708.2 768.75 723.4 796.6 H769.6 Q784.8 768.75 769.6 741 Z" stroke="#000" stroke-width="2.51" fill="#fff" />
<rect x="723.20" y="733.90" width="46.60" height="7.30" rx="1.5" stroke="#000" stroke-width="2.28" fill="#fff"/>
<rect x="723.20" y="796.40" width="46.60" height="7.30" rx="1.5" stroke="#000" stroke-width="2.28" fill="#fff"/>
<line x1="724.00" y1="739.00" x2="769.00" y2="739.00" stroke="#000" stroke-width="1.37" stroke-linecap="butt"/>
<line x1="724.00" y1="798.60" x2="769.00" y2="798.60" stroke="#000" stroke-width="1.37" stroke-linecap="butt"/>
<rect x="762.40" y="727.60" width="7.60" height="6.00" rx="0" stroke="#000" stroke-width="0.91" fill="#111"/>
<path d="M770 732.6 H782.4 V736.6 H772" stroke="#000" stroke-width="1.71" fill="none" />
<line x1="773.60" y1="738.60" x2="780.00" y2="738.60" stroke="#000" stroke-width="1.48" stroke-linecap="butt"/>
<circle cx="726.90" cy="750.60" r="1.90" fill="#000"/>
<circle cx="765.60" cy="750.60" r="1.90" fill="#000"/>
<circle cx="726.90" cy="787.20" r="1.90" fill="#000"/>
<circle cx="765.60" cy="787.20" r="1.90" fill="#000"/>
<ellipse cx="720.60" cy="768.75" rx="3.30" ry="2.30" stroke="#000" stroke-width="2.05" fill="none"/>
<ellipse cx="730.00" cy="768.75" rx="1.20" ry="2.60" stroke="#000" stroke-width="1.14" fill="#111"/>
<ellipse cx="771.60" cy="768.75" rx="5.40" ry="5.80" stroke="#000" stroke-width="1.14" fill="#111"/>
<rect x="761.40" y="767.00" width="27.20" height="3.60" rx="0" stroke="#000" stroke-width="1.48" fill="#fff"/>
<rect x="766.00" y="767.30" width="22.80" height="3.00" rx="0" stroke="#000" stroke-width="0.57" fill="#111"/>
<rect x="737.60" y="780.00" width="17.40" height="29.60" rx="0" stroke="none" stroke-width="0" fill="#fff"/>
<path d="M737.8 779.6 V809 M741.2 781.6 V809 M751.6 781.6 V809 M755 779.6 V809" stroke="#000" stroke-width="2.05" fill="none" />
<path d="M739.5 781 V809 M753.3 781 V809" stroke="#000" stroke-width="1.03" fill="none" />
<circle cx="746.25" cy="768.75" r="14.20" stroke="#000" stroke-width="3.42" fill="#fff"/>
<circle cx="746.25" cy="768.75" r="4.90" stroke="#000" stroke-width="5.24" fill="none"/>
<g transform="translate(0,1788.0) scale(1,-1)">
<path d="M275.6 745.5 L280.6 729.2 Q281.4 727.6 291 727 H435 Q445.4 727.6 446.6 729.2 L452.6 745.5" stroke="#000" stroke-width="2.05" fill="#fff" />
<line x1="289.00" y1="727.40" x2="437.00" y2="727.40" stroke="#000" stroke-width="4.56" stroke-linecap="butt"/>
<line x1="277.50" y1="745.20" x2="285.00" y2="729.60" stroke="#000" stroke-width="1.37" stroke-linecap="butt"/>
<line x1="280.62" y1="745.20" x2="289.38" y2="729.60" stroke="#000" stroke-width="1.37" stroke-linecap="butt"/>
<line x1="283.75" y1="745.20" x2="296.25" y2="729.60" stroke="#000" stroke-width="2.51" stroke-linecap="butt"/>
<line x1="290.00" y1="745.20" x2="303.75" y2="729.60" stroke="#000" stroke-width="2.51" stroke-linecap="butt"/>
<line x1="297.50" y1="745.20" x2="311.25" y2="729.60" stroke="#000" stroke-width="2.51" stroke-linecap="butt"/>
<line x1="305.00" y1="745.20" x2="318.75" y2="729.60" stroke="#000" stroke-width="2.28" stroke-linecap="butt"/>
<line x1="325.00" y1="745.20" x2="335.00" y2="729.60" stroke="#000" stroke-width="2.74" stroke-linecap="butt"/>
<line x1="334.38" y1="745.20" x2="346.25" y2="729.60" stroke="#000" stroke-width="1.37" stroke-linecap="butt"/>
<line x1="336.50" y1="745.20" x2="348.50" y2="729.60" stroke="#000" stroke-width="1.37" stroke-linecap="butt"/>
<line x1="360.00" y1="745.20" x2="370.00" y2="729.60" stroke="#000" stroke-width="2.74" stroke-linecap="butt"/>
<line x1="370.00" y1="745.20" x2="380.00" y2="729.60" stroke="#000" stroke-width="2.96" stroke-linecap="butt"/>
<line x1="395.00" y1="745.20" x2="401.25" y2="729.60" stroke="#000" stroke-width="3.42" stroke-linecap="butt"/>
<line x1="406.25" y1="745.20" x2="411.88" y2="729.60" stroke="#000" stroke-width="1.6" stroke-linecap="butt"/>
<line x1="423.12" y1="745.20" x2="423.12" y2="729.60" stroke="#000" stroke-width="1.37" stroke-linecap="butt"/>
<line x1="425.25" y1="745.20" x2="424.75" y2="729.60" stroke="#000" stroke-width="1.37" stroke-linecap="butt"/>
<line x1="428.12" y1="745.20" x2="429.38" y2="729.60" stroke="#000" stroke-width="1.6" stroke-linecap="butt"/>
<line x1="435.00" y1="745.20" x2="435.00" y2="729.60" stroke="#000" stroke-width="2.51" stroke-linecap="butt"/>
<line x1="440.00" y1="745.20" x2="437.50" y2="729.60" stroke="#000" stroke-width="1.6" stroke-linecap="butt"/>
<line x1="446.25" y1="745.20" x2="443.75" y2="729.60" stroke="#000" stroke-width="1.6" stroke-linecap="butt"/>
<line x1="193.80" y1="743.50" x2="193.80" y2="894.00" stroke="#000" stroke-width="3.65" stroke-linecap="butt"/>
<line x1="205.60" y1="746.50" x2="205.60" y2="894.00" stroke="#000" stroke-width="5.7" stroke-linecap="butt"/>
<line x1="192.20" y1="746.50" x2="658.00" y2="746.50" stroke="#000" stroke-width="3.65" stroke-linecap="butt"/>
<line x1="192.20" y1="758.80" x2="647.40" y2="758.80" stroke="#000" stroke-width="5.7" stroke-linecap="butt"/>
<line x1="217.60" y1="746.50" x2="217.60" y2="757.00" stroke="#000" stroke-width="2.51" stroke-linecap="butt"/>
<rect x="192.40" y="743.20" width="24.60" height="2.40" rx="0" stroke="#000" stroke-width="0.57" fill="#111"/>
<line x1="631.40" y1="746.50" x2="631.40" y2="757.00" stroke="#000" stroke-width="2.51" stroke-linecap="butt"/>
<line x1="642.40" y1="746.50" x2="642.40" y2="757.00" stroke="#000" stroke-width="2.51" stroke-linecap="butt"/>
<rect x="632.00" y="743.20" width="24.40" height="2.40" rx="0" stroke="#000" stroke-width="0.57" fill="#111"/>
<line x1="645.60" y1="757.00" x2="645.60" y2="894.00" stroke="#000" stroke-width="4.56" stroke-linecap="butt"/>
<line x1="656.90" y1="746.00" x2="656.90" y2="894.00" stroke="#000" stroke-width="5.24" stroke-linecap="butt"/>
<path d="M647.6 894 V751.5 Q647.6 747.6 651.2 747.6 Q654.8 747.6 654.8 751.5 V894" stroke="#000" stroke-width="1.37" fill="none" />
<line x1="647.60" y1="777.00" x2="654.80" y2="777.00" stroke="#000" stroke-width="1.48" stroke-linecap="butt"/>
<path d="M194.2 742 V728.4 M203.79999999999998 742 V728.4" stroke="#000" stroke-width="3.65" fill="none" stroke-linecap="round"/>
<path d="M194.2 741 V729.4 M203.79999999999998 741 V729.4" stroke="#fff" stroke-width="0.91" fill="none" />
<rect x="195.80" y="732.40" width="6.40" height="8.00" rx="0" stroke="#000" stroke-width="0.68" fill="#111"/>
<path d="M193.79999999999998 740 Q199.0 745.4 204.2 740" stroke="#000" stroke-width="1.6" fill="none" />
<path d="M647.8 742 V728.4 M657.4 742 V728.4" stroke="#000" stroke-width="3.65" fill="none" stroke-linecap="round"/>
<path d="M647.8 741 V729.4 M657.4 741 V729.4" stroke="#fff" stroke-width="0.91" fill="none" />
<rect x="649.40" y="732.40" width="6.40" height="8.00" rx="0" stroke="#000" stroke-width="0.68" fill="#111"/>
<path d="M647.4 740 Q652.5999999999999 745.4 657.8 740" stroke="#000" stroke-width="1.6" fill="none" />
<rect x="659.40" y="767.20" width="13.00" height="20.80" rx="0" stroke="#000" stroke-width="1.71" fill="none"/>
<rect x="661.60" y="763.40" width="8.60" height="3.60" rx="0" stroke="#000" stroke-width="1.48" fill="#333"/>
<rect x="658.60" y="769.60" width="13.00" height="5.40" rx="0" stroke="#000" stroke-width="0.91" fill="#111"/>
<path d="M659.4 771.2 H671.6 M659.4 773.4 H671.6" stroke="#fff" stroke-width="0.8" fill="none" />
<path d="M661.6 775.4 Q662 780.6 666 780.6 Q670 780.6 670.2 775.4" stroke="#000" stroke-width="1.82" fill="none" />
<path d="M664 775.6 V777.8 M668 775.6 V777.8" stroke="#000" stroke-width="1.6" fill="none" />
<path d="M659.4 806.3 H688" stroke="#000" stroke-width="1.48" fill="none" />
<circle cx="319.50" cy="874.80" r="1.60" fill="#000"/>
<circle cx="583.70" cy="874.80" r="1.60" fill="#000"/>
<path d="M714 740.8 H828 Q842 741 842 755 V783.4 Q842 797.4 828 797.4 H714 Q700 790 700 769 Q700 748 714 740.8 Z" stroke="#000" stroke-width="1.82" fill="#fff" />
<g clip-path="url(#finclip)">
<line x1="700.00" y1="743.30" x2="842.00" y2="743.30" stroke="#000" stroke-width="3.19" stroke-linecap="butt"/>
<line x1="700.00" y1="747.70" x2="842.00" y2="747.70" stroke="#000" stroke-width="3.19" stroke-linecap="butt"/>
<line x1="700.00" y1="752.60" x2="842.00" y2="752.60" stroke="#000" stroke-width="3.19" stroke-linecap="butt"/>
<line x1="700.00" y1="758.10" x2="842.00" y2="758.10" stroke="#000" stroke-width="3.19" stroke-linecap="butt"/>
<line x1="700.00" y1="763.70" x2="842.00" y2="763.70" stroke="#000" stroke-width="3.19" stroke-linecap="butt"/>
<line x1="700.00" y1="769.30" x2="842.00" y2="769.30" stroke="#000" stroke-width="3.19" stroke-linecap="butt"/>
<line x1="700.00" y1="774.90" x2="842.00" y2="774.90" stroke="#000" stroke-width="3.19" stroke-linecap="butt"/>
<line x1="700.00" y1="780.50" x2="842.00" y2="780.50" stroke="#000" stroke-width="3.19" stroke-linecap="butt"/>
<line x1="700.00" y1="786.10" x2="842.00" y2="786.10" stroke="#000" stroke-width="3.19" stroke-linecap="butt"/>
<line x1="700.00" y1="791.60" x2="842.00" y2="791.60" stroke="#000" stroke-width="3.19" stroke-linecap="butt"/>
<line x1="700.00" y1="795.80" x2="842.00" y2="795.80" stroke="#000" stroke-width="3.19" stroke-linecap="butt"/>
</g>
<path d="M723.4 741 Q708.2 768.75 723.4 796.6 H769.6 Q784.8 768.75 769.6 741 Z" stroke="#000" stroke-width="2.51" fill="#fff" />
<rect x="723.20" y="733.90" width="46.60" height="7.30" rx="1.5" stroke="#000" stroke-width="2.28" fill="#fff"/>
<rect x="723.20" y="796.40" width="46.60" height="7.30" rx="1.5" stroke="#000" stroke-width="2.28" fill="#fff"/>
<line x1="724.00" y1="739.00" x2="769.00" y2="739.00" stroke="#000" stroke-width="1.37" stroke-linecap="butt"/>
<line x1="724.00" y1="798.60" x2="769.00" y2="798.60" stroke="#000" stroke-width="1.37" stroke-linecap="butt"/>
<rect x="762.40" y="727.60" width="7.60" height="6.00" rx="0" stroke="#000" stroke-width="0.91" fill="#111"/>
<path d="M770 732.6 H782.4 V736.6 H772" stroke="#000" stroke-width="1.71" fill="none" />
<line x1="773.60" y1="738.60" x2="780.00" y2="738.60" stroke="#000" stroke-width="1.48" stroke-linecap="butt"/>
<circle cx="726.90" cy="750.60" r="1.90" fill="#000"/>
<circle cx="765.60" cy="750.60" r="1.90" fill="#000"/>
<circle cx="726.90" cy="787.20" r="1.90" fill="#000"/>
<circle cx="765.60" cy="787.20" r="1.90" fill="#000"/>
<ellipse cx="720.60" cy="768.75" rx="3.30" ry="2.30" stroke="#000" stroke-width="2.05" fill="none"/>
<ellipse cx="730.00" cy="768.75" rx="1.20" ry="2.60" stroke="#000" stroke-width="1.14" fill="#111"/>
<ellipse cx="771.60" cy="768.75" rx="5.40" ry="5.80" stroke="#000" stroke-width="1.14" fill="#111"/>
<rect x="761.40" y="767.00" width="27.20" height="3.60" rx="0" stroke="#000" stroke-width="1.48" fill="#fff"/>
<rect x="766.00" y="767.30" width="22.80" height="3.00" rx="0" stroke="#000" stroke-width="0.57" fill="#111"/>
<rect x="737.60" y="780.00" width="17.40" height="29.60" rx="0" stroke="none" stroke-width="0" fill="#fff"/>
<path d="M737.8 779.6 V809 M741.2 781.6 V809 M751.6 781.6 V809 M755 779.6 V809" stroke="#000" stroke-width="2.05" fill="none" />
<path d="M739.5 781 V809 M753.3 781 V809" stroke="#000" stroke-width="1.03" fill="none" />
<circle cx="746.25" cy="768.75" r="14.20" stroke="#000" stroke-width="3.42" fill="#fff"/>
<circle cx="746.25" cy="768.75" r="4.90" stroke="#000" stroke-width="5.24" fill="none"/>
</g>
<path d="M669.4 811.9 L795 826.9 V961.1 L669.4 976.1 V950.4 L672.6 942.4 V845.6 L669.4 837.6 Z" stroke="#000" stroke-width="2.28" fill="#fff" />
<line x1="668.60" y1="811.80" x2="796.00" y2="827.00" stroke="#000" stroke-width="4.1" stroke-linecap="butt"/>
<line x1="668.60" y1="976.20" x2="796.00" y2="961.00" stroke="#000" stroke-width="4.1" stroke-linecap="butt"/>
<line x1="795.00" y1="826.00" x2="795.00" y2="962.00" stroke="#000" stroke-width="3.65" stroke-linecap="butt"/>
<line x1="738.50" y1="820.60" x2="738.50" y2="967.40" stroke="#000" stroke-width="3.42" stroke-linecap="butt"/>
<rect x="680.00" y="808.77" width="7.40" height="3.40" rx="0" stroke="#000" stroke-width="0.91" fill="#111"/>
<rect x="680.00" y="975.83" width="7.40" height="3.40" rx="0" stroke="#000" stroke-width="0.91" fill="#111"/>
<rect x="702.60" y="811.46" width="7.40" height="3.40" rx="0" stroke="#000" stroke-width="0.91" fill="#111"/>
<rect x="702.60" y="973.14" width="7.40" height="3.40" rx="0" stroke="#000" stroke-width="0.91" fill="#111"/>
<rect x="724.60" y="814.09" width="7.40" height="3.40" rx="0" stroke="#000" stroke-width="0.91" fill="#111"/>
<rect x="724.60" y="970.51" width="7.40" height="3.40" rx="0" stroke="#000" stroke-width="0.91" fill="#111"/>
<rect x="741.40" y="816.10" width="7.40" height="3.40" rx="0" stroke="#000" stroke-width="0.91" fill="#111"/>
<rect x="741.40" y="968.50" width="7.40" height="3.40" rx="0" stroke="#000" stroke-width="0.91" fill="#111"/>
<path d="M669.6 811.6 L676 809.6 L688 809" stroke="#000" stroke-width="1.6" fill="none" />
<path d="M669.6 976.4 L676 978.4 L688 979" stroke="#000" stroke-width="1.6" fill="none" />
<ellipse cx="711.30" cy="840.00" rx="2.70" ry="3.60" stroke="#000" stroke-width="1.37" fill="#222"/>
<ellipse cx="701.90" cy="861.90" rx="2.70" ry="3.60" stroke="#000" stroke-width="1.37" fill="#222"/>
<ellipse cx="688.00" cy="894.00" rx="2.70" ry="3.60" stroke="#000" stroke-width="1.37" fill="#222"/>
<ellipse cx="701.90" cy="926.20" rx="2.70" ry="3.60" stroke="#000" stroke-width="1.37" fill="#222"/>
<ellipse cx="711.30" cy="947.60" rx="2.70" ry="3.60" stroke="#000" stroke-width="1.37" fill="#222"/>
<circle cx="670.40" cy="884.40" r="1.30" fill="#000"/>
<circle cx="670.40" cy="903.60" r="1.30" fill="#000"/>
<rect x="740.40" y="832.40" width="34.40" height="36.20" rx="0" stroke="#000" stroke-width="0.68" fill="#000"/>
<rect x="743.20" y="836.40" width="2.40" height="28.60" rx="0" stroke="none" stroke-width="0" fill="#fff"/>
<line x1="768.00" y1="836.60" x2="775.60" y2="836.60" stroke="#fff" stroke-width="1.14" stroke-linecap="butt"/>
<line x1="745.80" y1="837.80" x2="748.60" y2="837.80" stroke="#fff" stroke-width="0.91" stroke-linecap="butt"/>
<line x1="768.00" y1="840.10" x2="775.60" y2="840.10" stroke="#fff" stroke-width="1.14" stroke-linecap="butt"/>
<line x1="745.80" y1="841.30" x2="748.60" y2="841.30" stroke="#fff" stroke-width="0.91" stroke-linecap="butt"/>
<line x1="768.00" y1="843.60" x2="775.60" y2="843.60" stroke="#fff" stroke-width="1.14" stroke-linecap="butt"/>
<line x1="745.80" y1="844.80" x2="748.60" y2="844.80" stroke="#fff" stroke-width="0.91" stroke-linecap="butt"/>
<line x1="768.00" y1="847.10" x2="775.60" y2="847.10" stroke="#fff" stroke-width="1.14" stroke-linecap="butt"/>
<line x1="745.80" y1="848.30" x2="748.60" y2="848.30" stroke="#fff" stroke-width="0.91" stroke-linecap="butt"/>
<line x1="768.00" y1="850.60" x2="775.60" y2="850.60" stroke="#fff" stroke-width="1.14" stroke-linecap="butt"/>
<line x1="745.80" y1="851.80" x2="748.60" y2="851.80" stroke="#fff" stroke-width="0.91" stroke-linecap="butt"/>
<line x1="768.00" y1="854.10" x2="775.60" y2="854.10" stroke="#fff" stroke-width="1.14" stroke-linecap="butt"/>
<line x1="745.80" y1="855.30" x2="748.60" y2="855.30" stroke="#fff" stroke-width="0.91" stroke-linecap="butt"/>
<line x1="768.00" y1="857.60" x2="775.60" y2="857.60" stroke="#fff" stroke-width="1.14" stroke-linecap="butt"/>
<line x1="745.80" y1="858.80" x2="748.60" y2="858.80" stroke="#fff" stroke-width="0.91" stroke-linecap="butt"/>
<line x1="768.00" y1="861.10" x2="775.60" y2="861.10" stroke="#fff" stroke-width="1.14" stroke-linecap="butt"/>
<line x1="745.80" y1="862.30" x2="748.60" y2="862.30" stroke="#fff" stroke-width="0.91" stroke-linecap="butt"/>
<line x1="768.00" y1="864.60" x2="775.60" y2="864.60" stroke="#fff" stroke-width="1.14" stroke-linecap="butt"/>
<line x1="745.80" y1="865.80" x2="748.60" y2="865.80" stroke="#fff" stroke-width="0.91" stroke-linecap="butt"/>
<path d="M757 832.4 Q759 830.6 762 832.4 M757 868.6 Q759 870.4 762 868.6" stroke="#000" stroke-width="2.28" fill="none" />
<circle cx="784.40" cy="844.40" r="7.60" stroke="#000" stroke-width="3.65" fill="#fff"/>
<line x1="777.00" y1="842.20" x2="792.00" y2="842.20" stroke="#000" stroke-width="3.42" stroke-linecap="butt"/>
<line x1="777.40" y1="846.80" x2="791.60" y2="846.80" stroke="#000" stroke-width="1.82" stroke-linecap="butt"/>
<circle cx="798.00" cy="844.40" r="3.00" stroke="#000" stroke-width="1.82" fill="#fff"/>
<circle cx="810.60" cy="844.40" r="7.40" stroke="#000" stroke-width="3.65" fill="#fff"/>
<line x1="803.40" y1="842.40" x2="818.00" y2="842.40" stroke="#000" stroke-width="3.42" stroke-linecap="butt"/>
<line x1="803.80" y1="847.00" x2="817.60" y2="847.00" stroke="#000" stroke-width="1.82" stroke-linecap="butt"/>
<rect x="773.80" y="861.30" width="16.80" height="13.60" rx="1.6" stroke="#000" stroke-width="0.68" fill="#000"/>
<path d="M780 865.6999999999999 H783 M785 865.6999999999999 H788 M780 870.0999999999999 H783 M785 870.0999999999999 H788" stroke="#fff" stroke-width="1.48" fill="none" />
<rect x="773.80" y="902.00" width="16.80" height="13.60" rx="1.6" stroke="#000" stroke-width="0.68" fill="#000"/>
<path d="M780 906.4 H783 M785 906.4 H788 M780 910.8 H783 M785 910.8 H788" stroke="#fff" stroke-width="1.48" fill="none" />
<rect x="773.80" y="918.80" width="16.80" height="13.60" rx="1.6" stroke="#000" stroke-width="0.68" fill="#000"/>
<path d="M782 922.0 V929.1999999999999 M787.4 922.0 V929.1999999999999 M782 925.5999999999999 H787.4" stroke="#fff" stroke-width="1.94" fill="none" />
<rect x="773.80" y="935.20" width="16.80" height="13.60" rx="1.6" stroke="#000" stroke-width="0.68" fill="#000"/>
<path d="M782 938.4000000000001 V945.6 M787.4 938.4000000000001 V945.6 M782 942.0 H787.4" stroke="#fff" stroke-width="1.94" fill="none" />
<rect x="755.20" y="880.40" width="15.20" height="27.40" rx="1.5" stroke="#000" stroke-width="2.96" fill="none"/>
<path d="M758.6 886 V884 H767 V903.6 H758.6 V896" stroke="#000" stroke-width="1.6" fill="none" />
<path d="M761 889.4 V886.6 H764.6" stroke="#000" stroke-width="1.25" fill="none" />
<circle cx="757.50" cy="941.20" r="9.60" stroke="#000" stroke-width="1.14" fill="#000"/>
<path d="M764.4 938.6 L767.6 941.2 L764.4 944 Z" stroke="#fff" stroke-width="0.57" fill="#fff" />
<path d="M752 941.2 H756 M758.6 939 V943.4" stroke="#555" stroke-width="0.91" fill="none" />
<path d="M753.6 815.4 Q758 818.6 764 816.6 Q769.6 814.6 772 811.2 L811.2 775 Q816.4 770.2 825 768.8 L833 768.5 H886.2 V760 H833 Q820 760.2 813 765 L807.5 770 L765.6 806.2 Q762.6 809 759.4 809.2 L753.6 809 Z" stroke="#000" stroke-width="2.05" fill="#fff" />
<line x1="765.60" y1="806.20" x2="771.90" y2="811.20" stroke="#000" stroke-width="1.48" stroke-linecap="butt"/>
<line x1="807.50" y1="770.00" x2="811.20" y2="775.00" stroke="#000" stroke-width="1.48" stroke-linecap="butt"/>
<line x1="833.00" y1="760.00" x2="833.00" y2="768.50" stroke="#000" stroke-width="1.48" stroke-linecap="butt"/>
<path d="M736.4 810 Q736.2 808.4 738.4 808.6 L751 810.2 Q753 810.6 752.8 812.8 L752.4 814.6 Q752 816.4 749.8 816.2 L737.8 814.8 Q736 814.4 736.2 812.6 Z" stroke="#000" stroke-width="2.05" fill="#fff" />
<path d="M768.6 814.4 L771.2 817.6 Q774.6 815.6 774 812" stroke="#000" stroke-width="1.82" fill="none" />
<path d="M808.2 770.7 Q822.5 759.4 841.5 752.3 Q860.5 747.6 886 747.3" stroke="#fff" stroke-width="2.96" fill="none" />
<path d="M807.5 770 Q822 758.6 841 751.4 Q860 746.6 886 746.3" stroke="#000" stroke-width="1.25" fill="none" />
<path d="M809 771.4 Q823 760.2 842 753.2 Q861 748.6 886 748.3" stroke="#000" stroke-width="1.25" fill="none" />
<rect x="886.40" y="746.40" width="12.20" height="29.80" rx="2" stroke="#000" stroke-width="2.51" fill="#fff"/>
<line x1="887.00" y1="752.60" x2="898.00" y2="752.60" stroke="#000" stroke-width="1.48" stroke-linecap="butt"/>
<path d="M894.6 754 Q893 761 894.6 768.6" stroke="#000" stroke-width="1.37" fill="none" />
<path d="M899.4 756.4 H947.6 Q950 756.4 950 759 V770 Q950 772.6 947.6 772.6 H899.4 Z" stroke="#000" stroke-width="1.14" fill="#000" />
<path d="M902.2 757.4 V771.6 M904.6 757.4 V771.6" stroke="#fff" stroke-width="0.91" fill="none" />
<path d="M908.2 762 L911.8 764.6 L908.2 768.4 Z" stroke="#fff" stroke-width="0.57" fill="#fff" />
<path d="M911 759.8 Q916 763.6 923 763.8 H945" stroke="#fff" stroke-width="1.03" fill="none" />
<path d="M911.4 769.4 L914.4 766.4" stroke="#fff" stroke-width="1.03" fill="none" />
<path d="M753.6 972.6 Q758 969.4 764 971.4 Q769.6 973.4 772 976.8 L811.2 1013 Q816.4 1017.8 825 1019.2 L833 1019.5 H854 V1028 H833 Q820 1027.8 813 1023 L807.5 1018 L765.6 981.8 Q762.6 979 759.4 978.8 L753.6 979 Z" stroke="#000" stroke-width="2.05" fill="#fff" />
<line x1="765.60" y1="981.80" x2="771.90" y2="976.80" stroke="#000" stroke-width="1.48" stroke-linecap="butt"/>
<line x1="807.50" y1="1018.00" x2="811.20" y2="1013.00" stroke="#000" stroke-width="1.48" stroke-linecap="butt"/>
<line x1="833.00" y1="1019.50" x2="833.00" y2="1028.00" stroke="#000" stroke-width="1.48" stroke-linecap="butt"/>
<line x1="833.00" y1="1025.00" x2="854.00" y2="1025.00" stroke="#000" stroke-width="1.25" stroke-linecap="butt"/>
<path d="M736.4 978 Q736.2 979.6 738.4 979.4 L751 977.8 Q753 977.4 752.8 975.2 L752.4 973.4 Q752 971.6 749.8 971.8 L737.8 973.2 Q736 973.6 736.2 975.4 Z" stroke="#000" stroke-width="2.05" fill="#fff" />
<path d="M768.6 973.6 L771.2 970.4 Q774.6 972.4 774 976" stroke="#000" stroke-width="1.82" fill="none" />
<path d="M782 999.5 Q787 1013.3 800.5 1019.7 Q814.5 1025 833 1025.6" stroke="#fff" stroke-width="2.96" fill="none" />
<path d="M781.2 1000 Q786 1014 800 1020.6 Q814 1026 833 1026.6" stroke="#000" stroke-width="1.25" fill="none" />
<path d="M782.8 999 Q788 1012.6 801 1018.8 Q815 1024 833 1024.6" stroke="#000" stroke-width="1.25" fill="none" />
<path d="M854 1016.4 Q854 1012.8 857 1012.8 Q859.6 1012.8 860.2 1015.4 Q861.4 1017 862.6 1015.4 Q863.2 1012.8 866 1012.8 Q868.6 1012.8 869.2 1015.4 L873.8 1017.6 V1030.4 L869.2 1032.6 Q868.6 1035.2 866 1035.2 Q863.2 1035.2 862.6 1032.6 Q861.4 1031 860.2 1032.6 Q859.6 1035.2 857 1035.2 Q854 1035.2 854 1031.6 Z" stroke="#000" stroke-width="1.14" fill="#000" />
<path d="M856.4 1020.4 H869 L873.8 1022 V1026 L869 1027.6 H856.4 Z" stroke="#fff" stroke-width="0.57" fill="#fff" />
<rect x="873.80" y="1013.20" width="12.40" height="21.80" rx="1.5" stroke="#000" stroke-width="0.91" fill="#000"/>
<rect x="877.00" y="1016.40" width="9.40" height="15.40" rx="0" stroke="none" stroke-width="0" fill="#fff"/>
<path d="M877.6 1015 H881 M877.6 1033 H881" stroke="#fff" stroke-width="0.91" fill="none" />
<rect x="886.20" y="1015.00" width="12.40" height="18.60" rx="0" stroke="#000" stroke-width="1.6" fill="#fff"/>
<path d="M888.6 1015 V1033.6 M891 1015 V1033.6" stroke="#000" stroke-width="1.37" fill="none" />
<path d="M898.6 1013.8 L930 1016.4 H947 Q949.6 1016.4 949.6 1019 V1029.4 Q949.6 1032 947 1032 H930 L898.6 1034.8 Z" stroke="#000" stroke-width="0.91" fill="#000" />
<path d="M893.2 1016.8 L930 1021 V1027.6 L893.2 1032 Z" stroke="#fff" stroke-width="0.57" fill="#fff" />
<line x1="933.60" y1="1024.60" x2="945.00" y2="1024.60" stroke="#999" stroke-width="1.03" stroke-linecap="butt"/>
</svg>
</body></html>
